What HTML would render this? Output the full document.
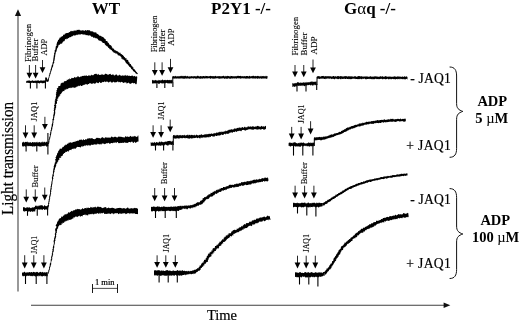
<!DOCTYPE html>
<html><head><meta charset="utf-8"><title>Figure</title>
<style>
html,body{margin:0;padding:0;background:#fff;}
body{width:520px;height:322px;overflow:hidden;}
svg{display:block;filter:grayscale(1);}
svg text{font-family:"Liberation Serif",serif;fill:#000;}
</style></head><body>
<svg width="520" height="322" viewBox="0 0 520 322">
<rect width="520" height="322" fill="#fff"/>
<line x1="18.00" y1="14.00" x2="18.00" y2="291.50" stroke="#444" stroke-width="1.1"/>
<path d="M18 9.3 L14.9 16 L21.1 16 Z" fill="#111" stroke="none" stroke-width="0" />
<line x1="31.00" y1="305.25" x2="445.00" y2="305.25" stroke="#2a2a2a" stroke-width="0.9"/>
<path d="M450.3 305.25 L443.6 302.5 L443.6 308 Z" fill="#111" stroke="none" stroke-width="0" />
<line x1="92.50" y1="288.40" x2="117.50" y2="288.40" stroke="#222" stroke-width="0.8"/>
<line x1="92.50" y1="284.00" x2="92.50" y2="293.00" stroke="#000" stroke-width="0.9"/>
<line x1="117.50" y1="284.00" x2="117.50" y2="293.00" stroke="#000" stroke-width="0.9"/>
<text x="104.80" y="284.50" font-size="8.5" text-anchor="middle" stroke="#000" stroke-width="0.2">1 min</text>
<text x="106.00" y="14.40" font-size="17" font-weight="bold" text-anchor="middle">WT</text>
<text x="211.00" y="14.40" font-size="17" font-weight="bold">P2Y1 -/-</text>
<text x="344" y="14.4" font-size="17" font-weight="bold">G<tspan font-weight="normal">α</tspan>q -/-</text>
<text transform="translate(13.3 214.9) rotate(-90)" font-size="16" textLength="113" lengthAdjust="spacingAndGlyphs" stroke="#000" stroke-width="0.2">Light transmission</text>
<text x="222.00" y="319.60" font-size="14.5" text-anchor="middle" stroke="#000" stroke-width="0.2">Time</text>
<text x="410.20" y="83.30" font-size="13.6" textLength="40.6" lengthAdjust="spacing" stroke="#000" stroke-width="0.2">- JAQ1</text>
<text x="406.30" y="150.20" font-size="13.6" textLength="44.5" lengthAdjust="spacing" stroke="#000" stroke-width="0.2">+ JAQ1</text>
<text x="410.20" y="204.40" font-size="13.6" textLength="40.6" lengthAdjust="spacing" stroke="#000" stroke-width="0.2">- JAQ1</text>
<text x="406.30" y="267.60" font-size="13.6" textLength="44.5" lengthAdjust="spacing" stroke="#000" stroke-width="0.2">+ JAQ1</text>
<text x="492.30" y="105.70" font-size="14.5" font-weight="bold" text-anchor="middle">ADP</text>
<text x="491.80" y="122.80" font-size="14.5" font-weight="bold" text-anchor="middle">5 <tspan font-weight="normal">µ</tspan>M</text>
<text x="495.30" y="225.00" font-size="14.5" font-weight="bold" text-anchor="middle">ADP</text>
<text x="495.60" y="242.20" font-size="14.5" font-weight="bold" text-anchor="middle">100 <tspan font-weight="normal">µ</tspan>M</text>
<path d="M449.6 67.0 C454.6 67.0 456.6 70.0 456.6 76.0 L456.6 103.4 C456.6 108.4 458.6 109.9 462.8 111.4 C458.6 112.9 456.6 114.4 456.6 119.4 L456.6 148.3 C456.6 154.3 454.6 157.3 449.6 157.3" fill="none" stroke="#111" stroke-width="1.0" />
<path d="M449.6 188.6 C454.6 188.6 456.6 191.6 456.6 197.6 L456.6 226.0 C456.6 231.0 458.6 232.5 462.8 234.0 C458.6 235.5 456.6 237.0 456.6 242.0 L456.6 269.5 C456.6 275.5 454.6 278.5 449.6 278.5" fill="none" stroke="#111" stroke-width="1.0" />
<path d="M26.25 82.86 L26.52 83.12 L26.83 83.03 L27.18 82.65 L27.55 82.63 L27.96 82.66 L28.40 82.94 L28.86 82.70 L29.35 83.10 L29.86 83.06 L30.40 83.38 L30.95 83.29 L31.52 82.72 L32.10 82.85 L32.70 82.74 L33.31 83.11 L33.92 83.04 L34.55 82.65 L35.18 83.14 L35.81 82.85 L36.44 82.96 L37.07 83.24 L37.70 82.80 L38.33 83.02 L38.94 83.18 L39.55 83.38 L40.15 82.93 L40.73 82.72 L41.30 82.63 L41.85 83.21 L42.39 83.30 L42.90 83.16 L43.39 83.06 L43.85 83.27 L44.29 82.98 L44.70 82.65 L45.07 83.12 L45.42 83.26 L45.73 82.91 L46.00 82.62 L46.00 80.63 L45.73 80.47 L45.42 80.77 L45.07 80.21 L44.70 80.44 L44.29 80.47 L43.85 80.24 L43.39 80.64 L42.90 80.52 L42.39 80.75 L41.85 80.54 L41.30 80.47 L40.73 80.61 L40.15 80.39 L39.55 80.91 L38.94 80.77 L38.33 80.30 L37.70 80.54 L37.07 80.44 L36.44 80.76 L35.81 80.53 L35.18 80.66 L34.55 80.84 L33.92 80.95 L33.31 80.70 L32.70 80.53 L32.10 80.35 L31.52 80.91 L30.95 80.77 L30.40 80.96 L29.86 80.68 L29.35 80.24 L28.86 80.82 L28.40 80.34 L27.96 80.93 L27.55 80.65 L27.18 80.59 L26.83 80.71 L26.52 80.94 L26.25 80.88Z" fill="#000" stroke="none" stroke-width="0" />
<path d="M46.59 82.02 L46.53 81.64 L46.58 81.11 L46.76 80.47 L46.58 79.78 L46.90 79.13 L47.11 78.57 L46.80 78.14 L46.57 78.41 L45.44 78.37 L46.07 78.69 L46.30 79.50 L46.38 80.19 L46.90 80.89 L47.07 81.79 L48.10 82.09 L48.33 81.46 L48.54 81.10 L48.77 80.66 L48.91 80.13 L48.88 79.51 L48.92 78.88 L49.06 78.27 L49.27 77.69 L49.47 77.14 L49.49 76.58 L49.68 76.08 L49.79 75.60 L50.16 75.22 L50.15 74.74 L50.33 74.29 L50.68 73.85 L50.69 73.24 L50.73 72.55 L51.06 71.84 L51.38 71.53 L51.16 71.03 L51.51 70.67 L51.66 70.23 L51.80 69.77 L52.10 69.34 L52.00 68.77 L52.12 68.25 L52.44 67.79 L52.52 67.25 L52.90 66.79 L53.08 66.26 L53.23 65.73 L53.12 65.12 L53.34 64.62 L53.34 64.06 L53.59 63.58 L54.05 63.16 L54.17 62.67 L54.30 62.19 L54.08 61.56 L54.18 61.01 L54.49 60.51 L54.70 59.98 L54.69 59.43 L54.50 58.86 L54.98 58.39 L54.98 57.86 L54.77 57.31 L54.92 56.81 L55.32 56.35 L55.11 55.81 L55.35 55.34 L55.14 54.80 L55.62 54.39 L55.34 53.84 L55.87 53.46 L55.71 52.88 L55.75 52.33 L56.40 51.94 L56.33 51.34 L56.47 50.79 L56.90 50.34 L56.74 49.70 L56.93 49.19 L57.13 48.69 L57.23 48.17 L57.58 47.76 L57.93 47.38 L57.99 46.92 L58.22 46.56 L58.40 46.21 L58.48 45.88 L58.51 44.99 L58.96 44.68 L59.74 44.90 L59.64 44.48 L60.24 44.36 L60.15 43.74 L60.55 43.70 L61.36 43.91 L61.75 43.30 L62.37 43.27 L62.41 42.68 L62.64 42.24 L62.92 41.83 L63.28 41.48 L63.83 41.30 L64.39 41.16 L64.44 40.49 L65.02 40.45 L64.91 39.47 L65.19 39.21 L65.56 38.98 L66.40 39.47 L66.41 38.60 L67.14 38.89 L67.70 38.89 L67.75 37.97 L68.30 37.94 L69.07 38.35 L69.08 37.26 L69.71 37.44 L69.99 36.91 L70.67 37.31 L71.00 36.97 L71.23 36.16 L71.94 36.65 L72.19 35.83 L72.91 36.49 L73.15 35.54 L73.61 35.30 L74.15 35.43 L74.68 35.46 L75.26 35.80 L75.58 34.89 L76.17 35.26 L76.56 34.58 L77.17 35.20 L77.54 34.39 L78.12 34.98 L78.53 34.26 L79.02 34.18 L79.55 34.59 L80.04 34.66 L80.51 34.29 L81.01 34.57 L81.49 34.05 L81.98 33.96 L82.47 34.27 L82.95 34.84 L83.46 34.57 L83.96 34.43 L84.45 34.36 L84.89 35.00 L85.43 34.41 L85.80 35.37 L86.27 35.32 L86.79 35.03 L87.28 35.01 L87.66 35.47 L88.21 35.20 L88.51 35.74 L89.03 35.52 L89.59 35.27 L90.02 35.45 L90.39 35.83 L90.91 35.82 L91.00 36.88 L91.71 36.42 L92.16 36.64 L92.68 36.70 L93.09 37.04 L93.19 38.04 L94.01 37.47 L94.42 37.71 L95.05 37.58 L95.27 38.30 L95.92 38.24 L96.54 38.27 L97.00 38.61 L97.54 38.81 L97.87 39.33 L98.18 39.86 L98.54 40.25 L98.99 40.43 L99.58 40.29 L99.59 41.08 L100.26 41.05 L101.07 40.42 L100.86 41.55 L101.23 41.59 L102.00 41.30 L102.03 41.89 L102.14 42.45 L102.71 42.59 L103.04 43.02 L103.83 42.99 L104.35 43.28 L104.81 43.64 L104.88 44.43 L105.26 44.87 L105.80 45.13 L105.96 45.76 L106.60 45.85 L106.84 46.31 L107.12 46.68 L107.98 46.37 L107.93 47.39 L108.35 47.81 L108.95 47.99 L109.32 48.33 L109.40 48.90 L109.85 49.13 L110.60 49.06 L110.46 49.87 L110.97 50.06 L111.83 50.07 L111.84 50.95 L112.30 51.33 L112.88 51.58 L113.38 51.89 L113.59 52.56 L114.05 52.96 L115.11 52.56 L115.26 53.55 L115.95 53.51 L116.54 53.56 L117.01 53.82 L117.54 54.06 L117.54 55.05 L118.01 55.19 L118.32 55.49 L119.05 55.15 L119.28 55.68 L120.09 55.67 L120.34 56.59 L120.84 56.58 L120.99 56.99 L121.53 57.03 L121.20 57.99 L121.46 58.38 L121.82 58.70 L122.58 58.65 L122.45 59.48 L123.32 59.38 L123.75 59.70 L124.26 59.97 L124.49 60.50 L124.90 60.88 L125.06 61.47 L125.54 61.77 L125.51 62.53 L126.06 62.75 L126.17 63.35 L126.68 63.56 L127.01 63.95 L127.35 64.36 L128.06 64.48 L127.93 65.29 L128.63 65.44 L129.13 65.77 L128.98 66.60 L129.58 66.85 L130.01 67.23 L130.64 67.44 L130.96 67.89 L131.10 68.46 L131.16 69.09 L131.80 69.24 L132.29 69.48 L132.50 69.91 L132.86 70.20 L132.95 70.69 L133.39 71.33 L134.10 71.66 L134.61 72.11 L135.23 72.38 L135.25 73.18 L135.87 73.30 L136.09 73.74 L136.65 73.75 L136.88 74.02 L136.93 74.38 L138.04 73.25 L137.71 73.15 L137.40 72.95 L137.11 72.66 L136.97 72.14 L136.41 71.98 L136.10 71.50 L135.73 71.02 L135.40 70.43 L134.91 69.96 L134.74 69.14 L134.11 69.16 L133.73 68.90 L133.45 68.54 L133.19 68.13 L133.47 67.27 L132.63 67.27 L132.79 66.46 L131.94 66.43 L131.78 65.86 L131.38 65.45 L131.01 65.02 L131.02 64.28 L130.39 64.06 L129.88 63.73 L129.47 63.34 L129.59 62.52 L129.11 62.21 L128.46 62.06 L128.52 61.32 L128.45 60.65 L128.01 60.30 L127.76 59.78 L126.79 59.90 L126.48 59.43 L126.63 58.53 L126.17 58.19 L125.18 58.36 L125.11 57.68 L124.87 57.17 L124.36 56.93 L123.92 56.64 L123.91 55.96 L123.12 56.08 L123.28 55.26 L123.04 54.87 L122.37 54.98 L122.04 54.73 L121.52 54.00 L120.61 53.94 L120.62 52.82 L120.01 52.71 L119.47 52.66 L118.88 52.79 L118.66 52.21 L118.14 51.84 L117.76 51.24 L116.94 51.58 L116.79 50.74 L116.11 50.93 L115.93 50.27 L115.14 50.54 L114.70 50.27 L114.54 49.64 L114.03 49.40 L113.93 48.69 L113.21 48.61 L112.59 48.39 L112.52 47.83 L112.19 47.55 L111.76 47.36 L111.94 46.58 L111.69 46.16 L111.08 46.00 L111.21 45.07 L110.11 45.23 L109.68 44.66 L109.38 44.36 L108.90 44.18 L108.95 43.41 L108.76 42.84 L107.75 43.08 L107.91 42.08 L107.46 41.70 L107.22 41.10 L106.42 41.09 L105.74 40.96 L105.89 39.98 L105.67 39.42 L105.25 39.11 L104.92 38.76 L104.36 38.71 L104.32 38.18 L103.93 38.09 L103.20 37.08 L102.19 36.83 L101.82 37.25 L101.62 36.84 L101.60 36.02 L101.07 35.97 L100.56 35.81 L99.93 35.81 L99.33 35.71 L99.06 35.00 L98.48 34.81 L98.12 34.24 L97.61 33.93 L97.03 33.75 L96.52 33.48 L96.36 32.55 L95.63 32.78 L95.34 32.10 L94.58 32.45 L94.07 32.23 L93.46 32.26 L93.14 31.59 L92.69 31.20 L91.88 31.78 L91.59 30.95 L90.82 31.47 L90.37 31.07 L89.93 30.60 L89.43 30.23 L88.87 29.94 L88.17 30.40 L87.65 29.93 L86.99 30.33 L86.37 30.67 L85.86 30.19 L85.30 30.06 L84.70 30.68 L84.15 30.67 L83.61 30.47 L83.07 30.34 L82.53 30.33 L81.98 30.45 L81.43 30.49 L80.88 30.40 L80.33 30.55 L79.72 29.61 L79.21 30.35 L78.60 29.76 L78.03 29.82 L77.48 29.95 L76.89 29.85 L76.42 30.54 L75.95 31.06 L75.26 30.37 L74.65 30.20 L74.26 31.06 L73.53 30.39 L73.18 31.41 L72.42 30.78 L72.01 31.50 L71.19 30.83 L70.59 30.97 L70.19 31.69 L69.68 32.08 L69.05 32.16 L68.75 32.84 L68.12 32.75 L67.61 32.97 L67.06 33.12 L66.34 32.96 L66.03 33.60 L65.27 33.39 L64.76 33.67 L64.77 34.82 L63.95 34.52 L63.37 34.64 L63.07 35.18 L62.93 35.91 L62.37 36.03 L62.03 36.76 L60.86 36.50 L60.91 37.59 L59.92 37.55 L59.44 37.97 L59.42 38.75 L58.93 39.04 L58.79 39.56 L58.59 39.92 L58.07 39.93 L57.88 40.78 L57.80 41.48 L57.32 41.76 L56.94 42.08 L57.13 42.61 L56.97 42.96 L56.89 43.54 L56.41 44.08 L56.74 45.20 L56.76 45.60 L56.24 45.83 L55.82 46.13 L55.71 46.58 L55.91 47.17 L55.45 47.55 L55.64 48.18 L55.38 48.67 L55.42 49.27 L55.32 49.84 L54.77 50.26 L54.60 50.82 L54.64 51.43 L54.86 52.08 L54.45 52.55 L54.29 53.08 L54.09 53.56 L54.00 54.07 L54.24 54.64 L54.14 55.14 L53.68 55.59 L53.88 56.14 L53.61 56.63 L53.55 57.14 L53.63 57.68 L53.41 58.17 L53.40 58.70 L53.26 59.21 L53.33 59.76 L53.04 60.24 L53.28 60.83 L53.16 61.36 L52.98 61.88 L52.58 62.27 L52.71 62.81 L52.47 63.27 L52.52 63.83 L52.49 64.37 L52.12 64.83 L51.86 65.32 L51.68 65.84 L51.44 66.34 L51.62 66.96 L51.21 67.41 L51.06 67.92 L51.08 68.48 L50.78 68.92 L50.51 69.36 L50.77 69.95 L50.59 70.38 L50.11 70.70 L50.33 71.21 L50.17 71.57 L50.02 72.34 L49.68 72.94 L49.31 73.45 L49.52 74.06 L49.30 74.49 L49.26 74.96 L48.85 75.33 L48.92 75.86 L48.85 76.40 L48.74 76.94 L48.55 77.50 L48.43 78.11 L48.05 78.66 L47.99 79.28 L47.69 79.79 L47.55 80.30 L47.69 80.81 L47.36 81.05 L47.46 81.00 L47.90 81.17 L47.74 80.64 L47.47 79.86 L47.40 79.17 L47.09 78.39 L46.84 77.68 L45.65 76.91 L45.41 77.94 L45.07 78.43 L45.03 79.05 L45.28 79.74 L45.00 80.43 L45.38 81.08 L45.04 81.61 L45.45 81.98Z" fill="#000" stroke="none" stroke-width="0" />
<line x1="30.40" y1="82.00" x2="30.40" y2="88.50" stroke="#000" stroke-width="1.1"/>
<line x1="36.90" y1="82.00" x2="36.90" y2="88.50" stroke="#000" stroke-width="1.1"/>
<line x1="45.40" y1="82.00" x2="45.40" y2="88.50" stroke="#000" stroke-width="1.1"/>
<line x1="29.40" y1="65.00" x2="29.40" y2="73.70" stroke="#1a1a1a" stroke-width="0.95"/>
<path d="M26.50 72.70 L32.30 72.70 L29.40 78.50 Z" fill="#000" stroke="none" stroke-width="0" />
<line x1="35.60" y1="65.00" x2="35.60" y2="73.70" stroke="#1a1a1a" stroke-width="0.95"/>
<path d="M32.70 72.70 L38.50 72.70 L35.60 78.50 Z" fill="#000" stroke="none" stroke-width="0" />
<line x1="42.50" y1="60.00" x2="42.50" y2="68.30" stroke="#1a1a1a" stroke-width="0.95"/>
<path d="M39.60 67.30 L45.40 67.30 L42.50 73.10 Z" fill="#000" stroke="none" stroke-width="0" />
<text transform="translate(30.50 62.00) rotate(-90)" font-size="8.7" stroke="#000" stroke-width="0.12" >Fibrinogen</text>
<text transform="translate(37.50 61.40) rotate(-90)" font-size="8.8" stroke="#000" stroke-width="0.12" >Buffer</text>
<text transform="translate(47.00 55.40) rotate(-90)" font-size="8.3" stroke="#000" stroke-width="0.12" >ADP</text>
<path d="M22.00 146.72 L22.27 145.55 L22.56 146.75 L22.88 146.32 L23.23 146.05 L23.61 146.66 L24.00 146.86 L24.42 145.65 L24.86 146.23 L25.32 146.82 L25.80 146.41 L26.30 146.14 L26.81 145.56 L27.34 145.83 L27.89 146.40 L28.44 145.68 L29.01 146.39 L29.60 145.66 L30.19 146.23 L30.79 146.04 L31.40 146.34 L32.01 145.92 L32.63 146.84 L33.26 146.74 L33.89 145.83 L34.52 146.84 L35.15 145.93 L35.78 146.20 L36.41 146.09 L37.04 146.43 L37.67 145.82 L38.29 145.97 L38.90 146.46 L39.51 146.62 L40.11 146.21 L40.70 146.86 L41.29 146.65 L41.86 145.81 L42.41 145.91 L42.96 146.19 L43.49 145.81 L44.00 146.43 L44.50 145.70 L44.98 145.80 L45.44 145.70 L45.88 145.58 L46.30 146.76 L46.69 146.53 L47.07 146.80 L47.42 145.76 L47.74 146.54 L48.03 146.43 L48.30 146.02 L48.30 142.44 L48.03 142.37 L47.74 142.86 L47.42 141.59 L47.07 142.44 L46.69 141.50 L46.30 141.66 L45.88 142.35 L45.44 142.83 L44.98 141.54 L44.50 142.35 L44.00 141.57 L43.49 142.32 L42.96 142.64 L42.41 141.57 L41.86 141.84 L41.29 142.58 L40.70 142.46 L40.11 142.61 L39.51 141.87 L38.90 142.62 L38.29 142.31 L37.67 142.85 L37.04 141.60 L36.41 142.54 L35.78 141.96 L35.15 142.87 L34.52 141.91 L33.89 142.55 L33.26 142.23 L32.63 142.00 L32.01 142.26 L31.40 142.89 L30.79 142.59 L30.19 142.08 L29.60 142.80 L29.01 141.92 L28.44 142.55 L27.89 142.47 L27.34 141.61 L26.81 141.80 L26.30 142.13 L25.80 141.83 L25.32 141.89 L24.86 141.95 L24.42 142.68 L24.00 142.55 L23.61 141.70 L23.23 141.60 L22.88 142.90 L22.56 142.24 L22.27 141.91 L22.00 142.87Z" fill="#000" stroke="none" stroke-width="0" />
<path d="M48.62 144.07 L48.76 143.69 L49.22 143.28 L49.35 142.72 L49.18 142.01 L49.58 141.37 L49.34 140.55 L49.68 139.81 L49.77 139.00 L50.31 138.27 L50.24 137.41 L50.60 136.65 L50.39 135.79 L51.01 135.15 L51.07 134.46 L51.00 133.74 L51.48 133.13 L51.26 132.36 L51.43 131.68 L51.41 130.95 L52.06 130.35 L52.23 129.66 L51.98 128.88 L52.53 128.26 L52.36 127.49 L52.52 126.79 L52.95 126.15 L53.01 125.44 L53.17 124.75 L53.18 124.05 L53.14 123.34 L53.55 122.72 L53.32 121.99 L53.48 121.33 L53.47 120.63 L53.78 119.98 L54.27 119.35 L53.99 118.58 L54.00 117.84 L54.53 117.16 L54.34 116.35 L54.73 115.61 L54.92 114.98 L54.97 114.30 L55.21 113.61 L55.12 112.86 L55.35 112.14 L55.08 111.34 L55.11 110.57 L55.55 109.84 L55.50 109.06 L55.70 108.32 L56.06 107.60 L56.32 106.90 L55.97 106.14 L56.40 105.51 L55.78 104.77 L55.94 104.17 L56.83 103.73 L56.89 103.22 L57.11 102.23 L56.72 101.29 L57.73 100.81 L57.56 100.14 L57.31 99.48 L57.42 98.93 L57.81 98.43 L58.67 98.00 L58.08 97.00 L59.48 96.62 L59.28 95.82 L60.39 95.47 L59.67 94.53 L60.57 94.22 L61.38 93.89 L61.11 93.01 L61.88 92.66 L62.18 92.03 L62.65 91.53 L63.17 91.10 L64.25 91.22 L64.12 90.33 L64.99 90.46 L64.66 89.36 L65.50 89.69 L65.99 89.45 L66.58 89.32 L66.85 88.47 L67.91 89.16 L68.19 88.15 L69.03 88.36 L69.56 87.83 L70.47 88.18 L70.88 87.34 L71.90 88.18 L72.07 87.12 L72.99 88.11 L73.24 87.30 L74.00 87.86 L74.61 87.70 L75.32 87.44 L76.22 87.21 L76.56 86.49 L77.24 87.01 L77.61 85.91 L78.31 86.23 L78.82 85.46 L79.67 86.25 L80.14 85.02 L81.05 85.99 L81.79 85.96 L82.44 85.43 L83.17 85.33 L83.85 84.85 L84.58 84.71 L85.32 84.60 L85.93 83.79 L86.76 84.39 L87.53 84.69 L88.14 84.09 L88.86 83.98 L89.50 83.30 L90.20 83.12 L90.99 83.66 L91.71 83.74 L92.42 83.77 L93.06 83.31 L93.75 83.19 L94.52 83.79 L95.19 83.54 L95.86 83.24 L96.48 82.29 L97.24 82.68 L98.01 83.27 L98.73 82.99 L99.40 81.77 L100.23 82.80 L100.86 82.98 L101.51 82.80 L102.17 82.25 L102.85 81.74 L103.58 82.18 L104.29 81.39 L105.03 81.56 L105.77 82.36 L106.52 81.52 L107.27 81.41 L108.01 82.22 L108.75 82.58 L109.49 82.10 L110.23 81.32 L110.94 82.15 L111.64 82.41 L112.32 82.71 L113.01 81.69 L113.66 81.82 L114.27 82.29 L114.86 82.41 L115.71 82.17 L116.48 82.13 L117.23 81.75 L117.96 81.37 L118.55 82.36 L119.21 82.27 L119.90 81.74 L120.45 82.64 L121.20 81.69 L121.84 81.93 L122.50 82.20 L123.15 82.87 L123.89 83.00 L124.74 82.30 L125.40 82.54 L126.14 82.36 L126.80 83.67 L127.65 82.99 L128.51 82.43 L129.25 83.38 L130.07 83.59 L130.85 84.12 L131.75 83.10 L132.56 82.84 L133.27 83.48 L134.04 82.99 L134.71 82.98 L135.20 84.51 L135.85 83.38 L136.29 83.91 L136.65 84.44 L137.27 76.98 L136.93 76.21 L136.45 76.22 L135.84 76.92 L135.28 76.22 L134.64 75.81 L133.85 76.61 L133.13 76.08 L132.39 75.43 L131.56 75.63 L130.70 76.03 L129.86 76.11 L129.08 75.58 L128.22 76.12 L127.50 75.23 L126.72 75.40 L125.93 76.12 L125.37 74.82 L124.56 75.50 L123.81 75.88 L123.19 75.23 L122.49 75.54 L121.83 75.49 L121.12 75.97 L120.49 75.59 L119.91 74.47 L119.14 75.17 L118.38 75.58 L117.61 75.77 L116.87 74.69 L116.04 74.15 L115.11 75.30 L114.47 75.58 L113.84 75.33 L113.20 74.35 L112.50 74.61 L111.79 75.07 L111.07 74.83 L110.35 73.83 L109.59 73.98 L108.83 74.47 L108.06 74.75 L107.29 74.45 L106.51 74.02 L105.74 73.82 L104.96 73.74 L104.21 74.93 L103.44 74.70 L102.69 74.78 L101.92 73.72 L101.23 74.96 L100.51 74.76 L99.82 74.95 L98.97 74.67 L98.09 73.77 L97.37 75.03 L96.47 73.81 L95.68 73.82 L94.93 74.13 L94.13 73.90 L93.53 75.33 L92.75 75.01 L92.07 75.60 L91.19 74.52 L90.61 75.70 L89.89 75.84 L89.07 75.29 L88.34 75.39 L87.68 75.98 L86.93 75.96 L86.06 75.09 L85.45 76.04 L84.60 75.54 L83.89 75.92 L83.06 75.68 L82.31 75.91 L81.61 76.46 L80.78 76.19 L80.14 76.98 L79.41 77.23 L78.51 76.52 L77.68 76.11 L77.18 77.25 L76.44 77.15 L75.77 77.24 L75.21 77.70 L74.36 76.77 L73.99 77.86 L73.00 78.26 L71.89 77.85 L71.16 78.51 L70.57 79.32 L69.36 78.24 L69.18 79.82 L68.03 78.90 L67.70 79.93 L66.78 79.63 L66.58 80.92 L65.80 80.95 L65.06 81.16 L64.17 81.15 L63.70 82.10 L63.28 83.10 L62.01 82.58 L61.34 83.20 L60.55 83.67 L60.55 85.19 L59.86 85.95 L58.27 85.90 L58.40 87.34 L57.71 88.02 L56.75 88.50 L57.27 89.87 L56.37 90.30 L56.90 91.52 L55.99 92.09 L56.46 93.27 L55.67 93.89 L56.13 94.87 L56.11 95.67 L55.87 96.38 L56.02 97.21 L55.31 97.64 L55.75 98.40 L55.41 98.90 L54.99 99.41 L55.49 100.24 L54.63 100.83 L54.88 101.80 L54.83 102.87 L54.56 103.38 L54.85 104.01 L54.68 104.62 L54.05 105.20 L54.07 105.90 L54.62 106.69 L54.07 107.37 L54.35 108.16 L53.64 108.84 L54.11 109.67 L53.59 110.39 L54.02 111.21 L53.97 111.97 L53.76 112.69 L53.74 113.42 L53.78 114.14 L53.19 114.74 L53.24 115.39 L53.30 116.20 L53.17 116.95 L53.03 117.68 L53.19 118.44 L52.49 119.05 L52.39 119.74 L52.55 120.46 L52.74 121.19 L52.20 121.78 L52.50 122.53 L52.21 123.17 L52.11 123.84 L51.72 124.48 L51.62 125.17 L51.81 125.93 L51.50 126.59 L51.50 127.32 L50.97 127.94 L51.10 128.70 L51.21 129.45 L50.73 130.08 L50.52 130.76 L50.64 131.51 L50.26 132.15 L50.17 132.85 L50.21 133.57 L49.74 134.18 L49.94 134.92 L49.88 135.68 L49.72 136.46 L49.15 137.17 L49.38 138.06 L49.02 138.83 L48.56 139.56 L48.62 140.38 L48.47 141.12 L48.11 141.77 L48.29 142.48 L48.21 143.05 L47.98 143.51 L48.07 143.95Z" fill="#000" stroke="none" stroke-width="0" />
<line x1="26.10" y1="144.00" x2="26.10" y2="151.50" stroke="#000" stroke-width="1.1"/>
<line x1="36.80" y1="144.00" x2="36.80" y2="151.50" stroke="#000" stroke-width="1.1"/>
<line x1="47.90" y1="133.00" x2="47.90" y2="154.50" stroke="#000" stroke-width="1.1"/>
<line x1="25.50" y1="125.30" x2="25.50" y2="133.60" stroke="#1a1a1a" stroke-width="0.95"/>
<path d="M22.60 132.60 L28.40 132.60 L25.50 138.40 Z" fill="#000" stroke="none" stroke-width="0" />
<line x1="34.20" y1="125.30" x2="34.20" y2="133.60" stroke="#1a1a1a" stroke-width="0.95"/>
<path d="M31.30 132.60 L37.10 132.60 L34.20 138.40 Z" fill="#000" stroke="none" stroke-width="0" />
<line x1="44.90" y1="116.80" x2="44.90" y2="124.90" stroke="#1a1a1a" stroke-width="0.95"/>
<path d="M42.00 123.90 L47.80 123.90 L44.90 129.70 Z" fill="#000" stroke="none" stroke-width="0" />
<text transform="translate(36.80 121.20) rotate(-90)" font-size="8.4" stroke="#000" stroke-width="0.12" >JAQ1</text>
<path d="M23.00 211.03 L23.29 210.67 L23.63 211.70 L24.03 210.61 L24.48 211.64 L24.97 211.64 L25.50 210.92 L26.06 210.93 L26.64 211.07 L27.25 211.57 L27.88 211.60 L28.51 211.38 L29.15 211.70 L29.79 210.97 L30.42 211.95 L31.05 211.83 L31.66 210.96 L32.24 211.64 L32.80 211.64 L33.33 211.83 L33.82 210.93 L34.27 211.48 L34.67 211.53 L35.01 211.26 L35.30 211.58 L35.30 207.00 L35.01 207.02 L34.67 206.83 L34.27 207.23 L33.82 206.93 L33.33 207.74 L32.80 207.74 L32.24 206.88 L31.66 207.87 L31.05 208.18 L30.42 207.90 L29.79 207.30 L29.15 207.47 L28.51 207.59 L27.88 207.83 L27.25 207.02 L26.64 207.15 L26.06 208.15 L25.50 208.05 L24.97 207.57 L24.48 207.55 L24.03 207.02 L23.63 207.20 L23.29 206.95 L23.00 207.78Z" fill="#000" stroke="none" stroke-width="0" />
<path d="M35.00 209.51 L35.29 209.70 L35.64 209.20 L36.04 209.01 L36.49 209.10 L36.99 209.05 L37.52 209.38 L38.08 208.94 L38.67 209.87 L39.29 209.88 L39.92 208.99 L40.56 209.41 L41.20 210.05 L41.84 208.99 L42.48 210.18 L43.11 209.05 L43.73 209.06 L44.32 210.09 L44.88 209.79 L45.41 209.78 L45.91 209.04 L46.36 209.96 L46.76 209.35 L47.11 208.93 L47.40 209.30 L47.40 205.50 L47.11 206.14 L46.76 205.91 L46.36 206.21 L45.91 206.36 L45.41 206.10 L44.88 205.34 L44.32 205.36 L43.73 206.45 L43.11 206.21 L42.48 205.18 L41.84 205.29 L41.20 205.25 L40.56 205.36 L39.92 205.67 L39.29 205.47 L38.67 205.61 L38.08 206.44 L37.52 206.30 L36.99 205.20 L36.49 206.46 L36.04 205.22 L35.64 205.63 L35.29 206.07 L35.00 205.49Z" fill="#000" stroke="none" stroke-width="0" />
<path d="M47.92 209.59 L48.31 209.28 L48.34 208.86 L48.01 208.30 L48.34 207.84 L48.42 207.26 L48.65 206.65 L48.96 206.01 L49.10 205.26 L48.83 204.36 L49.39 203.56 L49.17 202.54 L49.61 201.57 L49.63 200.45 L49.80 199.94 L49.84 199.38 L49.95 198.79 L50.27 198.21 L50.05 197.52 L50.14 196.85 L50.57 196.21 L50.64 195.50 L50.63 194.75 L51.01 194.05 L51.12 193.30 L50.85 192.48 L51.35 191.77 L51.18 190.95 L51.21 190.16 L51.49 189.40 L51.73 188.64 L51.61 187.84 L51.62 187.05 L52.02 186.34 L51.85 185.55 L52.30 184.87 L52.04 184.09 L52.58 183.46 L52.28 182.72 L52.68 182.11 L52.46 181.43 L52.61 180.84 L52.86 180.29 L52.90 179.34 L53.43 178.49 L53.05 177.54 L53.19 176.70 L53.88 175.98 L53.86 175.18 L53.64 174.37 L53.71 173.64 L54.02 172.97 L54.15 172.29 L54.47 171.68 L54.55 171.04 L54.34 170.36 L54.64 169.81 L55.12 169.31 L55.01 168.70 L55.02 168.14 L55.52 167.27 L55.83 166.48 L56.16 165.80 L56.23 165.12 L56.19 164.43 L56.23 163.79 L57.16 163.49 L57.28 162.86 L57.35 162.15 L57.99 161.56 L58.47 160.94 L58.15 160.03 L59.43 159.77 L59.40 159.02 L59.16 158.15 L59.77 157.69 L61.32 157.76 L60.60 156.52 L61.65 156.32 L62.07 155.76 L62.94 155.55 L62.87 154.68 L63.12 154.02 L63.86 153.79 L64.12 153.06 L64.82 153.01 L65.24 152.56 L65.55 151.86 L66.51 152.03 L67.06 151.59 L67.59 151.07 L68.81 151.72 L68.87 150.40 L69.64 150.34 L70.07 149.68 L71.21 150.29 L71.53 149.50 L71.87 148.88 L72.45 148.83 L73.22 149.30 L73.56 148.56 L74.22 148.46 L75.09 148.66 L75.99 148.43 L76.29 147.57 L76.85 147.51 L77.28 146.70 L77.99 147.00 L78.64 146.88 L79.35 146.93 L80.10 147.15 L80.89 147.43 L81.34 145.91 L82.31 147.11 L82.82 145.76 L83.70 146.40 L84.27 145.29 L85.17 146.18 L85.75 145.18 L86.50 145.27 L87.24 145.33 L88.05 146.11 L88.59 144.83 L89.38 145.42 L90.08 145.42 L90.79 145.51 L91.38 144.48 L92.12 144.93 L92.80 144.70 L93.52 144.81 L94.18 144.22 L94.93 144.56 L95.64 144.44 L96.38 144.41 L97.13 144.41 L97.82 143.49 L98.65 144.15 L99.46 144.38 L100.23 143.84 L100.96 144.71 L101.57 144.13 L102.12 143.10 L102.85 144.08 L103.44 143.46 L104.10 143.68 L104.80 144.24 L105.42 143.89 L106.02 143.22 L106.69 143.21 L107.38 143.40 L108.03 142.84 L108.75 143.12 L109.51 143.71 L110.25 143.65 L110.97 143.07 L111.75 143.02 L112.57 143.20 L113.37 142.63 L114.23 142.53 L115.15 143.01 L115.70 142.04 L116.39 143.37 L116.99 142.01 L117.69 141.92 L118.46 143.36 L119.19 142.91 L119.97 143.29 L120.74 142.80 L121.54 142.91 L122.36 142.86 L123.18 142.81 L124.02 142.94 L124.83 141.99 L125.70 142.92 L126.53 142.71 L127.38 142.96 L128.20 142.52 L129.01 142.08 L129.82 142.09 L130.64 142.59 L131.39 141.63 L132.16 141.59 L132.94 142.81 L133.66 142.97 L134.31 141.50 L135.00 142.42 L135.66 143.02 L136.22 142.10 L136.80 142.46 L137.29 141.67 L137.76 141.42 L138.20 141.60 L138.58 141.54 L138.38 135.61 L138.00 135.47 L137.58 135.95 L137.15 137.04 L136.62 136.74 L136.07 136.94 L135.45 136.37 L134.80 135.66 L134.17 136.56 L133.47 136.49 L132.74 136.32 L132.02 137.07 L131.24 136.39 L130.43 135.83 L129.66 136.66 L128.84 136.71 L128.02 137.00 L127.16 136.19 L126.35 136.89 L125.47 136.05 L124.68 137.49 L123.83 137.42 L122.98 136.88 L122.16 137.31 L121.32 136.73 L120.52 136.72 L119.73 136.78 L118.95 136.53 L118.21 136.85 L117.51 137.56 L116.80 137.42 L116.11 137.06 L115.45 136.81 L114.84 136.75 L113.95 137.10 L113.09 137.57 L112.20 136.86 L111.36 136.61 L110.63 137.77 L109.84 137.61 L109.10 137.83 L108.34 137.46 L107.64 137.69 L106.90 137.20 L106.25 137.72 L105.53 137.15 L104.89 137.58 L104.32 138.57 L103.61 137.90 L102.90 137.15 L102.27 137.28 L101.67 137.84 L101.03 137.85 L100.46 138.79 L99.77 138.29 L98.91 137.67 L98.17 138.16 L97.37 137.76 L96.60 137.77 L95.90 138.40 L95.21 139.01 L94.48 139.19 L93.74 139.11 L93.00 138.96 L92.18 138.02 L91.47 138.30 L90.74 138.44 L89.98 138.27 L89.23 138.26 L88.50 138.51 L87.72 138.42 L86.98 138.67 L86.40 139.78 L85.52 138.90 L84.92 140.02 L84.14 139.97 L83.19 138.98 L82.68 140.59 L81.68 139.43 L80.93 139.64 L80.15 139.71 L79.39 139.81 L78.81 140.72 L77.99 140.43 L77.34 140.83 L76.74 141.34 L75.91 140.73 L75.47 141.71 L74.84 141.75 L74.25 141.87 L73.18 142.00 L72.37 142.62 L71.44 142.64 L70.36 142.14 L69.74 142.70 L68.82 142.54 L68.44 143.44 L67.74 143.66 L66.95 143.81 L66.73 145.00 L65.59 144.59 L65.12 145.42 L64.24 145.59 L63.95 146.71 L62.88 146.63 L62.45 147.52 L61.82 148.08 L61.54 149.05 L59.94 148.52 L59.52 149.56 L59.01 150.43 L58.15 150.96 L58.22 152.16 L57.65 152.83 L57.17 153.52 L57.02 154.38 L56.77 155.17 L56.12 155.77 L56.22 156.75 L55.39 157.26 L56.08 158.41 L55.53 159.02 L55.03 159.66 L55.61 160.69 L55.42 161.43 L55.44 162.15 L54.78 162.57 L54.88 163.28 L54.51 163.82 L54.49 164.53 L54.11 165.17 L53.92 165.95 L53.61 166.79 L53.92 167.89 L53.42 168.37 L53.54 168.99 L53.22 169.53 L53.21 170.15 L53.20 170.79 L53.07 171.43 L52.76 172.05 L53.16 172.82 L52.93 173.51 L52.54 174.19 L52.56 174.97 L52.22 175.72 L52.35 176.57 L51.88 177.36 L51.89 178.25 L52.08 179.21 L51.95 180.15 L51.77 180.71 L51.78 181.33 L51.29 181.90 L51.50 182.60 L51.44 183.29 L51.21 183.97 L51.03 184.68 L51.01 185.43 L50.73 186.15 L50.57 186.90 L50.75 187.71 L50.46 188.46 L50.29 189.23 L50.34 190.03 L49.99 190.78 L50.10 191.58 L50.12 192.37 L50.14 193.15 L49.99 193.90 L49.72 194.62 L49.64 195.35 L49.30 196.02 L49.20 196.71 L49.18 197.39 L49.16 198.04 L49.22 198.68 L48.74 199.21 L48.71 199.77 L48.81 200.32 L48.47 201.38 L48.45 202.41 L48.02 203.31 L48.26 204.25 L48.12 205.06 L48.01 205.81 L47.80 206.47 L47.41 207.04 L47.25 207.60 L47.33 208.15 L47.12 208.59 L47.08 209.03 L47.10 209.42Z" fill="#000" stroke="none" stroke-width="0" />
<line x1="27.50" y1="209.00" x2="27.50" y2="215.80" stroke="#000" stroke-width="1.1"/>
<line x1="37.25" y1="209.00" x2="37.25" y2="215.80" stroke="#000" stroke-width="1.1"/>
<line x1="47.60" y1="205.50" x2="47.60" y2="215.50" stroke="#000" stroke-width="1.1"/>
<line x1="26.25" y1="189.40" x2="26.25" y2="197.70" stroke="#1a1a1a" stroke-width="0.95"/>
<path d="M23.35 196.70 L29.15 196.70 L26.25 202.50 Z" fill="#000" stroke="none" stroke-width="0" />
<line x1="35.25" y1="189.40" x2="35.25" y2="197.70" stroke="#1a1a1a" stroke-width="0.95"/>
<path d="M32.35 196.70 L38.15 196.70 L35.25 202.50 Z" fill="#000" stroke="none" stroke-width="0" />
<line x1="44.75" y1="187.50" x2="44.75" y2="195.80" stroke="#1a1a1a" stroke-width="0.95"/>
<path d="M41.85 194.80 L47.65 194.80 L44.75 200.60 Z" fill="#000" stroke="none" stroke-width="0" />
<text transform="translate(37.80 187.50) rotate(-90)" font-size="8.5" stroke="#000" stroke-width="0.12" >Buffer</text>
<path d="M22.00 275.48 L22.27 276.31 L22.56 276.33 L22.88 275.37 L23.23 276.30 L23.61 276.32 L24.00 276.18 L24.42 275.94 L24.87 275.66 L25.33 276.30 L25.81 275.32 L26.31 276.44 L26.82 275.74 L27.35 275.53 L27.90 275.98 L28.46 275.81 L29.03 275.91 L29.61 275.50 L30.21 275.81 L30.81 276.18 L31.42 275.84 L32.03 276.62 L32.65 276.09 L33.28 275.38 L33.91 276.28 L34.54 275.76 L35.16 276.67 L35.79 276.14 L36.42 275.90 L37.05 275.83 L37.67 276.14 L38.28 276.43 L38.89 275.30 L39.49 275.89 L40.09 276.44 L40.67 275.36 L41.24 276.44 L41.80 276.10 L42.35 276.49 L42.88 276.26 L43.39 275.79 L43.89 276.08 L44.37 275.58 L44.83 276.60 L45.28 276.15 L45.70 275.95 L46.09 275.66 L46.47 276.41 L46.82 275.42 L47.14 276.38 L47.43 276.11 L47.70 276.54 L47.70 272.37 L47.43 271.84 L47.14 272.77 L46.82 271.97 L46.47 272.46 L46.09 272.05 L45.70 272.81 L45.28 272.15 L44.83 272.77 L44.37 272.05 L43.89 271.98 L43.39 272.98 L42.88 271.82 L42.35 271.97 L41.80 272.72 L41.24 271.89 L40.67 271.93 L40.09 271.86 L39.49 272.28 L38.89 272.73 L38.28 272.70 L37.67 271.85 L37.05 272.14 L36.42 271.86 L35.79 272.67 L35.16 271.94 L34.54 272.25 L33.91 271.94 L33.28 271.74 L32.65 272.69 L32.03 272.00 L31.42 272.00 L30.81 272.51 L30.21 272.20 L29.61 271.98 L29.03 272.15 L28.46 272.30 L27.90 273.02 L27.35 271.89 L26.82 272.08 L26.31 272.99 L25.81 272.19 L25.33 273.08 L24.87 271.75 L24.42 271.79 L24.00 272.11 L23.61 272.98 L23.23 271.90 L22.88 272.02 L22.56 272.84 L22.27 272.76 L22.00 273.08Z" fill="#000" stroke="none" stroke-width="0" />
<path d="M48.47 274.12 L48.42 273.71 L48.52 273.29 L48.73 272.84 L48.89 272.32 L48.90 271.72 L49.49 271.23 L49.20 270.47 L49.72 269.88 L49.81 269.15 L49.95 268.41 L49.89 267.59 L50.51 266.93 L50.55 266.10 L50.85 265.32 L51.13 264.53 L51.25 263.70 L51.14 262.81 L51.30 261.99 L51.41 261.16 L51.82 260.40 L51.90 259.77 L52.27 259.16 L52.23 258.46 L52.10 257.72 L52.31 257.02 L52.65 256.34 L52.80 255.61 L52.81 254.84 L53.24 254.14 L52.95 253.31 L53.10 252.55 L53.60 251.85 L53.69 251.08 L53.79 250.31 L53.84 249.54 L53.62 248.74 L54.16 248.07 L54.23 247.34 L54.30 246.62 L54.12 245.87 L54.33 245.21 L54.57 244.57 L54.53 243.92 L54.91 243.35 L55.03 242.77 L54.70 242.15 L54.98 241.20 L55.56 240.37 L55.23 239.45 L55.33 238.66 L55.96 237.99 L55.81 237.25 L56.19 236.63 L56.16 235.97 L55.97 235.31 L56.44 234.78 L56.12 234.12 L56.32 233.56 L56.35 232.97 L57.00 232.49 L56.69 231.49 L57.05 230.65 L57.09 229.77 L57.25 228.95 L58.13 228.35 L58.16 227.60 L58.12 226.88 L58.46 226.33 L59.51 226.06 L58.89 224.75 L60.44 225.24 L60.89 224.85 L61.54 224.84 L61.77 224.33 L61.49 223.21 L62.77 223.65 L62.65 222.50 L63.96 223.05 L64.28 222.26 L64.39 221.48 L65.37 221.91 L65.43 220.75 L66.46 221.18 L66.83 220.41 L67.73 220.59 L68.52 220.58 L68.73 219.42 L69.75 219.91 L70.38 219.63 L71.12 219.44 L71.77 219.19 L72.08 218.43 L72.87 218.81 L73.34 218.55 L73.49 217.33 L74.22 217.39 L74.97 217.17 L75.72 216.36 L76.39 216.92 L76.81 216.28 L77.66 217.23 L78.09 216.32 L78.76 216.27 L79.31 215.62 L80.30 216.88 L80.86 216.04 L81.58 215.94 L82.43 216.48 L82.92 215.11 L83.68 215.08 L84.35 214.61 L85.26 215.54 L85.80 214.35 L86.65 215.13 L87.37 215.23 L88.08 215.40 L88.60 213.96 L89.39 214.54 L90.04 214.07 L90.75 214.15 L91.47 214.33 L92.08 213.51 L92.85 214.36 L93.55 214.39 L94.18 213.60 L94.92 214.23 L95.58 213.43 L96.32 213.96 L97.00 213.03 L97.75 213.27 L98.51 213.80 L99.27 213.76 L100.03 212.49 L100.65 213.92 L101.27 212.79 L101.88 213.41 L102.49 213.26 L103.12 213.12 L103.77 212.48 L104.33 214.02 L104.98 214.00 L105.64 213.83 L106.30 213.98 L107.00 213.63 L107.69 213.73 L108.42 213.55 L109.15 213.71 L109.91 213.58 L110.65 214.31 L111.50 213.31 L112.34 213.04 L113.14 214.40 L114.05 213.32 L114.95 213.75 L115.58 213.10 L116.23 213.37 L116.92 213.37 L117.63 213.04 L118.37 214.25 L119.13 213.81 L119.92 213.22 L120.72 213.63 L121.54 213.87 L122.37 213.38 L123.21 213.23 L124.05 213.48 L124.90 212.88 L125.75 214.23 L126.60 213.74 L127.44 213.29 L128.28 213.30 L129.11 213.07 L129.92 214.20 L130.72 212.90 L131.50 213.50 L132.25 212.96 L132.99 214.31 L133.69 213.01 L134.36 213.32 L135.01 213.73 L135.62 214.05 L136.18 213.91 L136.71 213.94 L137.19 213.97 L137.62 214.17 L138.00 214.09 L138.00 209.09 L137.61 208.89 L137.17 207.95 L136.69 208.32 L136.16 207.89 L135.59 208.25 L134.98 207.71 L134.34 207.99 L133.67 208.52 L132.96 207.88 L132.23 208.70 L131.47 207.88 L130.70 208.43 L129.90 208.34 L129.09 208.94 L128.26 207.81 L127.43 207.46 L126.59 208.25 L125.74 208.65 L124.89 208.46 L124.05 208.08 L123.21 208.19 L122.37 208.62 L121.54 208.25 L120.73 208.12 L119.94 207.85 L119.16 207.93 L118.40 207.99 L117.67 208.08 L116.96 208.55 L116.29 208.28 L115.64 208.71 L115.04 208.66 L114.17 208.13 L113.33 208.03 L112.52 207.87 L111.74 207.75 L110.94 208.28 L110.20 208.01 L109.45 208.26 L108.79 207.13 L108.03 208.13 L107.34 208.09 L106.63 208.42 L106.04 207.01 L105.34 207.37 L104.69 207.10 L103.97 208.08 L103.34 207.47 L102.65 208.14 L102.00 207.64 L101.33 207.53 L100.65 206.71 L99.97 207.37 L99.13 206.82 L98.32 206.69 L97.51 206.56 L96.77 207.59 L96.00 207.57 L95.18 206.61 L94.46 207.28 L93.72 207.46 L92.91 206.65 L92.27 207.91 L91.47 207.28 L90.69 206.86 L90.07 208.05 L89.33 208.12 L88.52 207.57 L87.84 208.22 L86.96 207.34 L86.37 208.42 L85.52 207.88 L84.74 207.88 L84.08 208.66 L83.34 208.95 L82.36 207.96 L81.80 209.24 L81.00 209.20 L80.31 209.68 L79.39 209.04 L78.67 209.25 L77.81 208.83 L77.15 209.18 L76.48 209.41 L75.76 209.33 L75.19 209.72 L74.66 210.19 L74.07 210.34 L72.99 210.53 L72.26 211.50 L71.06 210.80 L70.61 211.96 L69.78 211.97 L69.46 212.95 L68.26 212.03 L68.03 213.10 L67.58 213.83 L66.70 213.67 L66.28 214.53 L65.24 214.18 L64.46 214.41 L64.16 215.52 L63.27 215.53 L62.95 216.52 L62.24 216.78 L61.14 216.43 L61.12 217.71 L60.33 218.23 L59.43 218.60 L58.72 219.14 L58.75 220.38 L57.89 220.60 L57.86 221.52 L57.15 221.79 L57.07 223.10 L56.67 223.97 L55.79 224.97 L55.62 225.54 L56.50 226.45 L56.26 227.12 L56.21 227.88 L55.36 228.51 L55.17 229.34 L55.14 230.24 L55.39 231.23 L55.39 232.18 L55.34 232.79 L55.13 233.35 L54.70 233.88 L54.85 234.52 L55.13 235.18 L54.97 235.78 L54.64 236.39 L54.65 237.07 L54.35 237.74 L54.04 238.46 L54.25 239.30 L53.84 240.09 L53.68 240.99 L53.54 241.96 L53.91 242.59 L53.93 243.19 L53.75 243.79 L53.63 244.42 L53.56 245.08 L53.33 245.74 L52.96 246.40 L53.12 247.16 L52.63 247.82 L52.98 248.64 L52.37 249.30 L52.41 250.09 L52.68 250.91 L52.06 251.59 L52.25 252.41 L52.31 253.20 L51.64 253.87 L51.98 254.70 L51.73 255.42 L51.29 256.10 L51.38 256.86 L51.05 257.53 L51.23 258.27 L51.28 258.97 L50.69 259.53 L50.62 260.16 L50.88 261.05 L50.64 261.84 L50.54 262.67 L49.87 263.38 L49.79 264.22 L49.77 265.07 L49.67 265.89 L49.36 266.64 L48.91 267.35 L49.22 268.23 L48.87 268.92 L48.79 269.64 L48.37 270.26 L48.33 270.93 L48.35 271.58 L47.96 272.08 L47.80 272.60 L47.61 273.06 L47.76 273.55 L47.47 273.87Z" fill="#000" stroke="none" stroke-width="0" />
<line x1="25.50" y1="274.00" x2="25.50" y2="284.00" stroke="#000" stroke-width="1.1"/>
<line x1="36.20" y1="274.00" x2="36.20" y2="284.00" stroke="#000" stroke-width="1.1"/>
<line x1="46.90" y1="274.00" x2="46.90" y2="284.00" stroke="#000" stroke-width="1.1"/>
<line x1="24.70" y1="255.20" x2="24.70" y2="263.60" stroke="#1a1a1a" stroke-width="0.95"/>
<path d="M21.80 262.60 L27.60 262.60 L24.70 268.40 Z" fill="#000" stroke="none" stroke-width="0" />
<line x1="33.80" y1="255.20" x2="33.80" y2="263.60" stroke="#1a1a1a" stroke-width="0.95"/>
<path d="M30.90 262.60 L36.70 262.60 L33.80 268.40 Z" fill="#000" stroke="none" stroke-width="0" />
<line x1="43.90" y1="255.20" x2="43.90" y2="263.60" stroke="#1a1a1a" stroke-width="0.95"/>
<path d="M41.00 262.60 L46.80 262.60 L43.90 268.40 Z" fill="#000" stroke="none" stroke-width="0" />
<text transform="translate(36.60 253.80) rotate(-90)" font-size="7.7" stroke="#000" stroke-width="0.12" >JAQ1</text>
<path d="M152.02 83.62 L152.29 83.29 L152.59 83.38 L152.93 83.63 L153.30 83.42 L153.70 83.23 L154.13 83.55 L154.58 83.14 L155.06 83.13 L155.57 83.61 L156.09 83.26 L156.62 82.88 L157.18 82.82 L157.76 83.34 L158.35 83.74 L158.95 83.65 L159.56 83.78 L160.17 83.13 L160.79 82.63 L161.42 83.29 L162.05 83.71 L162.68 83.24 L163.31 83.21 L163.94 83.41 L164.56 83.01 L165.18 82.99 L165.79 83.38 L166.38 82.68 L166.97 83.04 L167.55 83.24 L168.11 83.70 L168.64 83.07 L169.17 83.73 L169.67 83.17 L170.14 82.73 L170.61 83.69 L171.03 83.13 L171.43 83.59 L171.80 83.49 L172.14 83.57 L172.44 82.69 L172.71 83.11 L172.69 80.09 L172.42 80.35 L172.11 80.20 L171.76 79.52 L171.40 79.88 L171.00 80.58 L170.57 79.73 L170.12 80.34 L169.63 79.75 L169.14 80.32 L168.61 79.99 L168.07 80.16 L167.51 79.69 L166.94 80.08 L166.36 80.31 L165.76 80.14 L165.14 79.64 L164.53 80.07 L163.91 80.32 L163.28 80.17 L162.65 79.60 L162.02 79.87 L161.39 80.21 L160.77 80.76 L160.13 79.73 L159.53 80.58 L158.91 79.83 L158.32 80.45 L157.73 80.74 L157.15 80.16 L156.60 80.49 L156.06 80.33 L155.53 79.85 L155.04 80.48 L154.55 80.21 L154.10 80.53 L153.67 80.33 L153.27 80.43 L152.90 79.84 L152.56 80.39 L152.25 79.74 L151.98 80.20Z" fill="#000" stroke="none" stroke-width="0" />
<line x1="172.80" y1="82.00" x2="172.80" y2="76.80" stroke="#000" stroke-width="1"/>
<path d="M172.50 78.35 L172.76 78.70 L173.02 78.48 L173.30 78.71 L173.58 78.53 L173.88 78.44 L174.19 78.20 L174.50 78.87 L174.83 78.73 L175.16 78.59 L175.50 78.41 L175.85 78.62 L176.21 78.65 L176.58 78.29 L176.96 78.80 L177.34 78.27 L177.74 78.61 L178.14 78.68 L178.55 78.24 L178.96 78.80 L179.39 78.76 L179.82 78.32 L180.25 78.26 L180.70 78.65 L181.15 78.54 L181.61 78.22 L182.07 78.64 L182.54 78.53 L183.02 78.37 L183.50 78.92 L183.99 78.42 L184.49 78.82 L184.98 78.65 L185.49 78.57 L186.00 78.36 L186.51 78.74 L187.03 78.41 L187.56 78.55 L188.08 78.36 L188.61 78.45 L189.15 78.94 L189.69 78.61 L190.23 78.58 L190.78 78.48 L191.33 78.25 L191.89 78.43 L192.44 78.30 L193.00 78.34 L193.57 78.68 L194.13 78.27 L194.70 78.22 L195.27 78.81 L195.84 78.50 L196.41 78.79 L196.99 78.42 L197.56 78.44 L198.14 78.31 L198.72 78.54 L199.30 78.50 L199.88 78.70 L200.47 78.85 L201.05 78.43 L201.63 78.62 L202.22 78.83 L202.80 78.54 L203.38 78.34 L203.96 78.43 L204.55 78.58 L205.13 78.44 L205.71 78.26 L206.29 78.38 L206.87 78.21 L207.45 78.41 L208.02 78.36 L208.60 78.37 L209.17 78.22 L209.74 78.34 L210.31 78.84 L210.88 78.82 L211.44 78.22 L212.00 78.13 L212.56 78.64 L213.12 78.44 L213.67 78.67 L214.22 78.79 L214.77 78.61 L215.31 78.20 L215.85 78.69 L216.38 78.14 L216.91 78.23 L217.44 78.35 L217.96 78.13 L218.48 78.61 L218.99 78.77 L219.50 78.67 L220.00 78.45 L220.50 78.38 L221.01 78.77 L221.52 78.33 L222.04 78.78 L222.56 78.14 L223.09 78.19 L223.62 78.26 L224.16 78.70 L224.69 78.65 L225.24 78.69 L225.78 78.32 L226.33 78.85 L226.88 78.84 L227.44 78.69 L228.00 78.60 L228.56 78.14 L229.12 78.44 L229.69 78.84 L230.26 78.70 L230.83 78.66 L231.40 78.30 L231.98 78.87 L232.56 78.53 L233.13 78.14 L233.71 78.42 L234.29 78.34 L234.87 78.66 L235.46 78.28 L236.04 78.50 L236.62 78.84 L237.20 78.33 L237.79 78.21 L238.37 78.36 L238.95 78.53 L239.54 78.23 L240.12 78.57 L240.70 78.71 L241.28 78.18 L241.86 78.38 L242.44 78.14 L243.01 78.25 L243.59 78.45 L244.16 78.35 L244.73 78.38 L245.30 78.15 L245.87 78.89 L246.44 78.16 L247.00 78.88 L247.56 78.18 L248.12 78.44 L248.67 78.53 L249.22 78.83 L249.77 78.60 L250.31 78.62 L250.85 78.29 L251.39 78.12 L251.92 78.77 L252.45 78.24 L252.97 78.77 L253.49 78.23 L254.00 78.76 L254.51 78.36 L255.02 78.76 L255.52 78.39 L256.01 78.39 L256.50 78.29 L256.98 78.55 L257.46 78.75 L257.93 78.82 L258.39 78.49 L258.85 78.22 L259.30 78.56 L259.75 78.65 L260.19 78.45 L260.62 78.17 L261.04 78.45 L261.46 78.68 L261.86 78.77 L262.27 78.73 L262.66 78.33 L263.04 78.51 L263.42 78.37 L263.79 78.63 L264.15 78.82 L264.50 78.34 L264.84 78.55 L265.18 78.26 L265.50 78.36 L265.82 78.88 L266.12 78.79 L266.42 78.87 L266.70 78.75 L266.98 78.64 L267.24 78.34 L267.50 78.86 L267.50 76.12 L267.24 76.04 L266.98 76.01 L266.70 76.45 L266.42 76.00 L266.12 75.72 L265.82 75.77 L265.50 76.13 L265.18 76.43 L264.84 76.22 L264.50 76.14 L264.15 76.37 L263.79 75.84 L263.42 76.15 L263.04 76.16 L262.66 75.97 L262.27 76.16 L261.87 75.81 L261.46 76.50 L261.04 76.35 L260.62 76.47 L260.19 75.72 L259.75 76.37 L259.30 76.43 L258.85 76.26 L258.39 76.10 L257.93 75.74 L257.46 75.93 L256.98 75.99 L256.50 76.46 L256.01 75.83 L255.52 76.06 L255.02 76.24 L254.51 76.35 L254.01 75.90 L253.49 75.87 L252.97 75.75 L252.45 75.98 L251.92 76.26 L251.39 75.88 L250.85 76.38 L250.31 76.29 L249.77 75.75 L249.22 75.98 L248.67 76.49 L248.12 76.34 L247.56 76.10 L247.00 76.04 L246.44 75.92 L245.87 75.89 L245.30 76.48 L244.74 76.36 L244.16 76.12 L243.59 76.40 L243.01 75.93 L242.44 76.27 L241.86 76.33 L241.28 76.26 L240.70 75.83 L240.12 76.12 L239.54 75.96 L238.95 75.88 L238.37 75.84 L237.79 76.04 L237.20 75.78 L236.62 76.21 L236.04 76.14 L235.45 76.30 L234.87 75.96 L234.29 76.38 L233.71 76.33 L233.13 76.21 L232.55 76.29 L231.98 75.98 L231.40 76.06 L230.83 75.85 L230.26 76.46 L229.69 76.39 L229.12 76.08 L228.56 75.94 L228.00 76.13 L227.44 75.83 L226.88 75.94 L226.33 76.16 L225.78 76.42 L225.23 75.83 L224.69 76.18 L224.15 76.43 L223.62 75.77 L223.09 75.86 L222.56 76.30 L222.04 76.01 L221.52 76.46 L221.01 75.88 L220.50 76.50 L220.00 75.95 L219.50 76.30 L218.99 76.04 L218.48 76.36 L217.96 76.25 L217.44 76.20 L216.91 76.35 L216.38 76.47 L215.84 75.94 L215.30 75.78 L214.76 76.36 L214.22 76.23 L213.67 76.31 L213.11 75.98 L212.56 76.23 L212.00 75.97 L211.44 76.29 L210.87 75.82 L210.31 75.89 L209.74 76.19 L209.17 75.94 L208.59 76.34 L208.02 76.47 L207.44 76.12 L206.86 76.07 L206.29 75.99 L205.70 75.84 L205.13 76.46 L204.54 76.28 L203.96 76.00 L203.38 75.91 L202.79 76.09 L202.21 76.43 L201.63 76.36 L201.04 76.34 L200.46 76.06 L199.88 76.33 L199.30 76.43 L198.72 76.36 L198.14 75.78 L197.56 75.77 L196.98 75.96 L196.41 76.42 L195.83 75.88 L195.26 76.44 L194.69 76.33 L194.12 75.98 L193.56 76.28 L193.00 76.52 L192.44 76.33 L191.88 76.36 L191.33 75.89 L190.78 76.50 L190.23 76.25 L189.69 76.47 L189.15 76.33 L188.61 76.41 L188.08 76.42 L187.55 75.93 L187.02 75.86 L186.51 76.39 L185.99 76.26 L185.48 75.81 L184.98 75.80 L184.48 76.33 L183.99 75.85 L183.50 75.89 L183.02 76.54 L182.54 76.08 L182.07 75.81 L181.60 75.87 L181.15 76.27 L180.69 76.30 L180.25 75.86 L179.81 76.37 L179.38 76.30 L178.96 76.33 L178.54 76.58 L178.13 75.94 L177.73 75.93 L177.34 76.45 L176.95 76.50 L176.58 76.47 L176.21 76.26 L175.85 75.79 L175.50 76.08 L175.15 76.15 L174.82 76.44 L174.50 76.13 L174.18 76.35 L173.88 76.04 L173.58 75.97 L173.29 76.56 L173.02 75.80 L172.75 76.12 L172.50 76.45Z" fill="#000" stroke="none" stroke-width="0" />
<line x1="156.90" y1="82.00" x2="156.90" y2="88.00" stroke="#000" stroke-width="1.1"/>
<line x1="164.80" y1="82.00" x2="164.80" y2="88.00" stroke="#000" stroke-width="1.1"/>
<line x1="172.90" y1="82.00" x2="172.90" y2="87.00" stroke="#000" stroke-width="1.1"/>
<line x1="154.80" y1="62.30" x2="154.80" y2="71.00" stroke="#1a1a1a" stroke-width="0.95"/>
<path d="M151.90 70.00 L157.70 70.00 L154.80 75.80 Z" fill="#000" stroke="none" stroke-width="0" />
<line x1="162.10" y1="62.30" x2="162.10" y2="71.00" stroke="#1a1a1a" stroke-width="0.95"/>
<path d="M159.20 70.00 L165.00 70.00 L162.10 75.80 Z" fill="#000" stroke="none" stroke-width="0" />
<line x1="170.50" y1="58.90" x2="170.50" y2="68.20" stroke="#1a1a1a" stroke-width="0.95"/>
<path d="M167.60 67.20 L173.40 67.20 L170.50 73.00 Z" fill="#000" stroke="none" stroke-width="0" />
<text transform="translate(156.90 52.30) rotate(-90)" font-size="8.4" stroke="#000" stroke-width="0.12" >Fibrinogen</text>
<text transform="translate(164.80 52.30) rotate(-90)" font-size="8.8" stroke="#000" stroke-width="0.12" >Buffer</text>
<text transform="translate(173.50 45.70) rotate(-90)" font-size="8.6" stroke="#000" stroke-width="0.12" >ADP</text>
<path d="M150.84 146.35 L151.08 145.91 L151.34 145.45 L151.74 146.33 L152.04 145.48 L152.45 145.85 L152.87 145.88 L153.32 146.06 L153.74 145.40 L154.30 146.45 L154.72 145.33 L155.26 145.49 L155.82 145.83 L156.37 145.74 L156.91 145.33 L157.48 145.13 L158.12 145.75 L158.70 145.46 L159.32 145.46 L159.94 145.57 L160.58 145.82 L161.23 146.10 L161.77 144.81 L162.43 145.17 L163.11 145.92 L163.72 145.62 L164.34 145.58 L164.90 144.78 L165.49 144.43 L166.11 144.66 L166.75 145.31 L167.35 145.52 L167.91 145.46 L168.47 145.48 L168.93 144.40 L169.47 144.60 L170.01 145.04 L170.43 144.23 L170.95 145.05 L171.39 145.00 L171.79 144.81 L172.17 144.70 L172.49 144.07 L172.87 144.83 L173.13 144.14 L173.46 145.02 L173.17 140.94 L172.91 141.15 L172.63 141.44 L172.24 140.52 L171.89 140.72 L171.57 141.73 L171.17 141.84 L170.64 140.61 L170.24 141.44 L169.71 140.84 L169.21 140.96 L168.69 141.03 L168.14 140.89 L167.62 141.36 L167.05 141.32 L166.49 141.63 L165.91 141.85 L165.28 141.48 L164.69 141.83 L164.11 142.32 L163.48 142.25 L162.81 141.70 L162.22 142.29 L161.53 141.42 L160.91 141.61 L160.35 142.50 L159.67 141.71 L159.04 141.55 L158.51 142.69 L157.91 142.72 L157.27 142.16 L156.69 142.12 L156.12 142.19 L155.60 142.65 L155.07 142.90 L154.48 141.87 L154.01 142.34 L153.56 142.89 L153.08 142.62 L152.63 142.47 L152.21 142.43 L151.82 142.34 L151.48 142.66 L151.17 143.05 L150.81 142.10 L150.60 142.93Z" fill="#000" stroke="none" stroke-width="0" />
<line x1="173.30" y1="145.00" x2="173.30" y2="136.00" stroke="#000" stroke-width="1"/>
<path d="M173.01 137.94 L173.27 137.93 L173.57 138.02 L173.88 138.14 L174.23 138.24 L174.60 138.83 L174.99 138.61 L175.40 138.92 L175.83 138.18 L176.28 138.37 L176.76 138.73 L177.24 137.98 L177.75 138.58 L178.26 138.33 L178.80 138.77 L179.34 138.80 L179.89 137.84 L180.46 138.00 L181.03 138.44 L181.61 137.94 L182.20 138.29 L182.79 138.19 L183.38 137.73 L183.98 138.11 L184.58 138.26 L185.18 137.76 L185.78 138.50 L186.38 138.02 L186.97 138.00 L187.56 138.31 L188.15 138.86 L188.72 138.34 L189.29 138.71 L189.85 138.41 L190.39 138.08 L190.94 138.59 L191.46 138.75 L191.96 137.98 L192.46 138.50 L192.94 138.36 L193.40 138.25 L193.83 137.65 L194.26 137.96 L194.66 138.14 L195.04 137.84 L195.81 137.94 L196.51 137.51 L197.20 138.02 L197.82 138.13 L198.38 137.62 L198.92 137.75 L199.46 138.23 L199.95 138.45 L200.41 138.40 L200.77 137.36 L201.24 137.92 L201.63 137.61 L202.05 137.66 L202.41 137.18 L202.93 138.13 L203.27 137.32 L203.69 137.16 L204.21 137.75 L204.65 137.33 L205.18 137.51 L205.67 137.51 L206.17 137.56 L206.64 137.34 L207.16 137.53 L207.59 136.91 L208.06 136.66 L208.67 137.41 L209.18 137.39 L209.58 136.61 L210.14 136.92 L210.65 136.88 L211.05 136.07 L211.55 135.98 L212.11 136.24 L212.66 136.47 L213.14 136.23 L213.73 136.70 L214.25 136.69 L214.68 136.17 L215.12 135.74 L215.59 135.46 L216.21 136.09 L216.71 136.06 L217.15 135.65 L217.65 135.58 L218.16 135.55 L218.68 135.62 L219.17 135.50 L219.68 135.48 L220.17 135.38 L220.59 134.91 L221.10 134.90 L221.50 134.34 L222.08 134.65 L222.64 134.90 L223.18 135.05 L223.62 134.68 L223.94 133.72 L224.44 133.66 L225.05 134.14 L225.63 134.49 L225.93 133.46 L226.57 134.05 L226.92 133.27 L227.58 133.89 L228.13 134.02 L228.54 133.50 L229.09 133.58 L229.46 132.91 L229.90 132.55 L230.38 132.38 L230.97 132.66 L231.37 132.14 L231.97 132.43 L232.61 132.94 L232.90 131.99 L233.41 131.92 L233.89 131.77 L234.52 132.28 L234.89 131.63 L235.36 131.42 L235.84 131.25 L236.50 131.99 L236.95 131.75 L237.33 131.11 L237.86 131.26 L238.28 130.79 L238.87 131.22 L239.35 131.11 L239.77 130.60 L240.29 130.69 L240.88 131.21 L241.37 131.14 L241.75 130.39 L242.21 130.10 L242.69 129.90 L243.20 130.00 L243.69 129.87 L244.27 130.50 L244.71 130.03 L245.25 130.42 L245.78 130.67 L246.16 129.73 L246.71 130.22 L247.18 129.94 L247.66 129.80 L248.10 129.27 L248.62 129.57 L249.11 129.29 L249.63 129.27 L250.16 129.28 L250.69 129.21 L251.26 129.60 L251.79 129.39 L252.36 130.04 L252.86 129.17 L253.44 129.95 L253.94 129.19 L254.48 129.16 L255.00 128.88 L255.54 129.30 L256.05 129.23 L256.57 129.60 L257.06 129.42 L257.55 129.58 L258.03 129.78 L258.47 129.20 L258.91 129.21 L259.34 129.16 L260.00 129.18 L260.65 129.87 L261.28 129.40 L261.89 128.97 L262.48 129.12 L263.04 128.90 L263.57 129.68 L264.07 129.77 L264.54 129.52 L264.97 129.47 L265.36 129.07 L265.71 128.70 L265.99 129.72 L266.01 126.29 L265.73 126.00 L265.40 125.73 L265.02 126.23 L264.58 126.49 L264.11 126.82 L263.61 125.93 L263.06 126.73 L262.48 126.57 L261.88 126.13 L261.25 125.75 L260.61 126.87 L259.95 126.71 L259.26 126.44 L258.82 125.75 L258.40 126.54 L257.93 126.08 L257.44 125.77 L256.97 126.30 L256.47 126.19 L255.98 126.98 L255.44 126.34 L254.91 126.42 L254.39 126.96 L253.85 126.86 L253.27 126.21 L252.71 125.96 L252.19 126.72 L251.63 126.58 L251.10 127.07 L250.51 126.35 L249.96 126.45 L249.44 126.80 L248.90 126.77 L248.32 126.35 L247.81 126.27 L247.41 127.37 L246.90 127.28 L246.42 127.56 L245.82 126.72 L245.42 127.68 L244.80 126.73 L244.29 126.75 L243.92 127.80 L243.41 127.77 L242.81 127.16 L242.28 127.03 L241.76 127.03 L241.43 128.23 L240.75 127.15 L240.40 128.19 L239.79 127.57 L239.26 127.52 L238.76 127.61 L238.35 128.20 L237.80 128.02 L237.25 127.86 L236.87 128.62 L236.25 128.13 L235.87 128.89 L235.22 128.29 L234.79 128.74 L234.18 128.35 L233.76 128.88 L233.38 129.50 L232.82 129.35 L232.37 129.68 L231.77 129.35 L231.19 129.13 L230.79 129.66 L230.21 129.43 L229.78 129.80 L229.26 129.81 L228.73 129.72 L228.36 130.35 L227.90 130.60 L227.37 130.53 L226.95 130.93 L226.51 131.28 L225.80 130.34 L225.49 131.31 L224.95 131.19 L224.51 131.51 L223.94 131.24 L223.54 131.77 L223.06 131.92 L222.54 131.86 L222.02 131.80 L221.46 131.55 L221.12 132.41 L220.42 131.40 L220.09 132.28 L219.44 131.55 L219.10 132.43 L218.52 131.99 L218.14 132.67 L217.64 132.68 L217.08 132.38 L216.61 132.55 L216.15 132.83 L215.73 133.31 L215.23 133.33 L214.74 133.47 L214.12 132.81 L213.75 133.68 L213.16 133.16 L212.76 133.89 L212.22 133.68 L211.67 133.48 L211.15 133.40 L210.69 133.73 L210.21 133.90 L209.70 133.89 L209.14 133.55 L208.74 134.26 L208.18 133.82 L207.70 134.01 L207.28 134.55 L206.68 133.74 L206.32 134.74 L205.71 133.75 L205.35 134.72 L204.79 133.98 L204.37 134.82 L203.89 134.85 L203.43 134.84 L203.03 135.17 L202.59 134.91 L202.16 134.70 L201.72 134.28 L201.34 134.43 L200.93 134.20 L200.61 135.20 L200.15 134.75 L199.74 135.06 L199.26 134.84 L198.79 135.15 L198.28 135.47 L197.70 135.20 L197.09 135.05 L196.41 134.57 L195.74 135.47 L194.96 135.37 L194.59 135.22 L194.18 134.48 L193.78 135.27 L193.34 135.20 L192.89 135.27 L192.41 135.09 L191.91 134.79 L191.41 134.89 L190.88 134.67 L190.36 135.38 L189.81 134.97 L189.25 134.80 L188.68 134.81 L188.12 135.70 L187.53 134.60 L186.94 135.07 L186.35 135.15 L185.76 135.43 L185.16 135.59 L184.56 134.58 L183.97 135.74 L183.36 135.07 L182.77 135.35 L182.18 135.08 L181.59 135.34 L181.02 135.73 L180.44 134.71 L179.88 135.39 L179.32 135.05 L178.78 135.31 L178.25 135.60 L177.73 135.32 L177.23 134.81 L176.74 135.75 L176.27 134.74 L175.82 135.61 L175.39 135.78 L174.97 134.82 L174.58 135.15 L174.21 135.62 L173.86 134.97 L173.54 135.13 L173.25 134.84 L172.99 135.77Z" fill="#000" stroke="none" stroke-width="0" />
<line x1="155.50" y1="144.00" x2="155.50" y2="150.50" stroke="#000" stroke-width="1.1"/>
<line x1="163.60" y1="144.00" x2="163.60" y2="150.50" stroke="#000" stroke-width="1.1"/>
<line x1="172.90" y1="144.00" x2="172.90" y2="150.50" stroke="#000" stroke-width="1.1"/>
<line x1="153.10" y1="125.30" x2="153.10" y2="133.00" stroke="#1a1a1a" stroke-width="0.95"/>
<path d="M150.20 132.00 L156.00 132.00 L153.10 137.80 Z" fill="#000" stroke="none" stroke-width="0" />
<line x1="161.10" y1="125.30" x2="161.10" y2="133.00" stroke="#1a1a1a" stroke-width="0.95"/>
<path d="M158.20 132.00 L164.00 132.00 L161.10 137.80 Z" fill="#000" stroke="none" stroke-width="0" />
<line x1="170.20" y1="119.60" x2="170.20" y2="127.50" stroke="#1a1a1a" stroke-width="0.95"/>
<path d="M167.30 126.50 L173.10 126.50 L170.20 132.30 Z" fill="#000" stroke="none" stroke-width="0" />
<text transform="translate(164.20 119.80) rotate(-90)" font-size="7.8" stroke="#000" stroke-width="0.12" >JAQ1</text>
<path d="M151.03 211.31 L151.29 210.88 L151.59 211.48 L151.90 211.44 L152.23 211.22 L152.60 211.39 L152.98 211.33 L153.38 210.84 L153.81 210.88 L154.26 211.13 L154.72 211.18 L155.20 210.82 L155.70 211.66 L156.21 211.17 L156.74 211.51 L157.27 210.74 L157.83 211.08 L158.39 211.51 L158.96 211.56 L159.54 210.97 L160.13 211.48 L160.72 210.68 L161.32 210.61 L161.94 211.45 L162.55 211.02 L163.16 210.94 L163.78 211.30 L164.39 211.03 L165.01 211.36 L165.63 211.26 L166.24 211.06 L166.84 210.87 L167.45 210.87 L168.04 210.65 L168.63 210.47 L169.23 211.25 L169.80 210.77 L170.38 211.37 L170.93 211.12 L171.47 210.59 L172.02 211.29 L172.53 210.78 L173.04 210.85 L173.54 211.16 L174.00 210.79 L174.47 211.26 L174.90 210.74 L175.34 211.37 L175.74 211.42 L176.09 210.68 L176.45 210.62 L176.80 211.12 L177.14 210.83 L178.75 211.10 L179.69 209.85 L180.63 210.04 L181.90 209.53 L181.78 208.61 L181.26 209.12 L180.90 209.34 L181.30 209.38 L181.53 209.02 L181.93 209.32 L182.33 209.39 L182.71 208.58 L183.17 208.50 L183.66 208.50 L184.19 209.26 L184.67 208.39 L185.24 209.15 L185.75 208.33 L186.33 208.73 L186.94 209.38 L187.51 209.17 L188.02 208.46 L188.54 208.00 L189.15 208.23 L189.72 208.17 L190.42 208.69 L190.82 208.16 L191.18 207.50 L191.93 208.32 L192.45 208.16 L192.74 207.26 L193.38 207.49 L193.87 207.25 L194.43 207.21 L195.04 207.29 L195.61 207.24 L195.77 206.07 L196.48 206.42 L196.99 206.26 L197.36 205.74 L197.85 205.56 L198.57 205.91 L198.87 205.32 L199.31 205.10 L199.54 204.47 L200.29 204.87 L200.99 204.78 L201.37 204.17 L202.11 204.14 L202.52 203.65 L202.89 203.16 L203.04 202.45 L203.89 202.57 L204.35 202.28 L204.07 201.21 L204.99 201.47 L205.04 200.82 L205.26 200.37 L205.92 200.47 L205.76 199.63 L206.07 199.36 L206.74 199.24 L207.40 199.19 L207.81 198.87 L208.46 198.94 L208.81 198.61 L209.18 198.31 L209.33 197.63 L209.75 197.35 L210.11 196.90 L210.53 196.46 L211.34 196.86 L211.70 196.56 L212.19 196.46 L212.63 196.31 L213.02 196.08 L213.00 195.18 L213.69 195.40 L214.22 195.34 L214.40 194.63 L214.94 194.49 L215.17 193.68 L215.82 193.60 L216.72 193.93 L217.12 193.85 L217.33 193.32 L217.61 192.86 L218.18 193.01 L218.45 192.47 L218.85 192.18 L219.27 191.90 L219.79 191.84 L220.38 191.92 L220.86 191.71 L221.36 191.56 L221.59 190.73 L222.12 190.60 L222.63 190.43 L223.23 190.48 L223.86 190.63 L224.15 189.89 L224.71 189.88 L225.43 190.31 L225.62 189.32 L226.39 189.97 L226.71 189.38 L227.03 188.79 L227.53 188.68 L228.13 188.92 L228.51 188.42 L229.00 188.28 L229.49 188.19 L230.06 188.35 L230.40 187.66 L231.03 188.08 L231.54 188.05 L231.93 187.53 L232.40 187.32 L232.86 187.05 L233.49 187.50 L234.08 187.82 L234.49 187.34 L234.99 187.25 L235.51 187.27 L235.88 186.62 L236.57 187.37 L236.97 186.83 L237.52 186.94 L238.02 186.83 L238.54 186.84 L239.03 186.76 L239.38 186.03 L239.83 185.73 L240.43 186.14 L240.84 185.64 L241.30 185.37 L241.82 185.42 L242.47 186.11 L242.85 185.40 L243.41 185.66 L243.90 185.53 L244.26 184.78 L244.91 185.45 L245.23 184.46 L245.78 184.67 L246.42 185.30 L246.86 184.95 L247.38 184.95 L247.89 184.94 L248.37 184.76 L248.81 184.38 L249.36 184.56 L249.87 184.52 L250.39 184.53 L250.89 184.42 L251.40 184.35 L251.74 183.41 L252.24 183.29 L252.80 183.47 L253.31 183.41 L253.86 183.55 L254.29 183.11 L254.88 183.49 L255.41 183.57 L255.79 182.85 L256.33 183.05 L256.75 182.59 L257.34 183.09 L257.63 182.02 L258.11 181.95 L258.75 182.80 L259.16 182.48 L259.56 182.08 L260.12 182.00 L260.74 182.22 L261.21 181.49 L261.92 182.11 L262.50 181.97 L262.97 181.23 L263.54 181.04 L264.14 181.11 L264.86 181.93 L265.24 180.98 L265.85 181.35 L266.30 181.01 L266.88 181.60 L267.33 181.57 L267.70 181.32 L268.00 180.90 L268.25 180.43 L268.59 180.72 L267.94 177.06 L267.64 176.95 L267.52 178.13 L267.12 178.01 L266.72 178.05 L266.21 177.76 L265.75 177.85 L265.17 177.48 L264.65 177.58 L264.22 178.31 L263.68 178.52 L262.99 177.97 L262.44 178.25 L261.83 178.21 L261.32 178.75 L260.77 179.07 L260.18 179.15 L259.49 178.61 L259.07 179.46 L258.56 179.27 L258.11 179.40 L257.71 179.86 L257.15 179.51 L256.61 179.25 L256.17 179.58 L255.63 179.39 L255.31 180.37 L254.64 179.60 L254.18 179.87 L253.66 179.86 L253.17 180.05 L252.62 179.92 L252.28 180.81 L251.78 180.96 L251.13 180.31 L250.64 180.47 L250.29 181.37 L249.69 180.98 L249.25 181.36 L248.64 180.89 L248.22 181.40 L247.65 181.07 L247.17 181.23 L246.63 181.10 L246.32 182.14 L245.71 181.60 L245.33 182.30 L244.71 181.74 L244.19 181.76 L243.73 182.04 L243.23 182.13 L242.67 181.90 L242.27 182.49 L241.70 182.24 L241.16 182.12 L240.84 183.11 L240.36 183.31 L239.86 183.40 L239.21 182.82 L238.87 183.69 L238.29 183.42 L237.90 184.00 L237.28 183.58 L236.81 183.84 L236.23 183.54 L235.90 184.41 L235.26 183.87 L234.90 184.61 L234.21 183.88 L233.86 184.64 L233.40 184.93 L232.85 184.81 L232.32 184.81 L231.85 185.08 L231.21 184.64 L230.72 184.84 L230.19 184.85 L229.63 184.81 L229.14 185.01 L228.64 185.17 L228.38 186.18 L227.78 186.01 L227.29 186.20 L226.72 186.17 L226.24 186.41 L225.72 186.50 L225.40 187.15 L224.91 187.35 L224.24 187.10 L223.58 186.88 L223.03 186.96 L222.85 188.03 L222.25 188.00 L221.65 187.97 L221.10 188.10 L220.66 188.46 L220.18 188.72 L219.53 188.57 L219.37 189.54 L218.90 189.78 L218.09 189.19 L217.64 189.44 L217.34 189.97 L217.09 190.60 L216.23 189.81 L215.80 189.97 L215.88 191.17 L215.40 191.14 L214.42 190.72 L214.22 191.83 L213.45 191.69 L212.73 191.64 L212.70 192.72 L212.00 192.58 L211.66 192.99 L211.13 193.07 L210.43 192.85 L210.60 193.98 L210.22 194.23 L209.64 194.16 L209.23 194.36 L208.68 194.59 L208.15 194.78 L208.09 195.68 L207.05 195.00 L207.16 196.11 L206.62 196.22 L206.30 196.69 L205.73 196.85 L205.31 197.28 L204.36 197.08 L204.06 197.52 L204.10 198.33 L203.13 197.98 L202.96 198.54 L202.35 198.62 L202.69 199.71 L202.23 199.95 L201.91 200.35 L201.47 200.62 L200.74 200.51 L200.48 200.98 L200.04 201.22 L199.88 201.88 L199.50 202.27 L199.04 202.56 L198.46 202.34 L197.84 202.05 L197.41 202.17 L197.16 202.74 L196.67 202.80 L196.19 202.89 L195.94 203.60 L195.43 203.69 L194.99 203.97 L194.41 203.87 L194.07 204.45 L193.51 204.42 L192.98 204.44 L192.53 204.73 L192.15 205.24 L191.60 205.15 L190.95 204.65 L190.63 205.35 L190.14 205.33 L189.66 205.27 L189.25 205.72 L188.75 205.79 L188.13 205.00 L187.70 205.61 L187.22 206.11 L186.63 205.34 L186.13 205.65 L185.59 205.55 L185.08 205.82 L184.55 205.60 L184.05 205.76 L183.57 206.34 L183.03 205.48 L182.59 206.22 L182.08 205.58 L181.64 205.87 L181.26 206.52 L180.68 205.74 L179.82 205.74 L179.03 206.53 L177.95 207.19 L178.63 207.03 L179.15 206.48 L179.05 206.26 L178.31 206.08 L176.87 206.41 L176.61 206.56 L176.31 206.94 L175.94 206.24 L175.57 206.20 L175.20 206.83 L174.78 206.38 L174.35 206.67 L173.89 206.32 L173.44 206.76 L172.95 206.68 L172.45 207.08 L171.92 206.40 L171.40 206.64 L170.85 206.13 L170.31 207.06 L169.74 206.89 L169.16 206.86 L168.58 206.98 L167.98 206.52 L167.40 207.19 L166.79 206.82 L166.18 206.95 L165.57 206.80 L164.96 207.07 L164.33 206.30 L163.72 206.72 L163.10 206.07 L162.50 207.17 L161.89 206.66 L161.28 206.86 L160.68 206.99 L160.09 207.16 L159.49 206.31 L158.92 207.26 L158.34 206.25 L157.78 206.56 L157.23 206.35 L156.69 207.05 L156.17 206.71 L155.65 206.71 L155.16 207.18 L154.68 206.79 L154.21 206.50 L153.76 206.28 L153.34 206.64 L152.93 206.72 L152.55 206.99 L152.18 206.65 L151.84 206.92 L151.53 206.94 L151.23 206.64 L150.96 206.21Z" fill="#000" stroke="none" stroke-width="0" />
<line x1="155.50" y1="209.00" x2="155.50" y2="218.00" stroke="#000" stroke-width="1.1"/>
<line x1="165.20" y1="209.00" x2="165.20" y2="218.00" stroke="#000" stroke-width="1.1"/>
<line x1="176.30" y1="209.00" x2="176.30" y2="218.00" stroke="#000" stroke-width="1.1"/>
<line x1="154.70" y1="188.00" x2="154.70" y2="196.50" stroke="#1a1a1a" stroke-width="0.95"/>
<path d="M151.80 195.50 L157.60 195.50 L154.70 201.30 Z" fill="#000" stroke="none" stroke-width="0" />
<line x1="164.60" y1="188.00" x2="164.60" y2="196.50" stroke="#1a1a1a" stroke-width="0.95"/>
<path d="M161.70 195.50 L167.50 195.50 L164.60 201.30 Z" fill="#000" stroke="none" stroke-width="0" />
<line x1="174.50" y1="188.00" x2="174.50" y2="196.50" stroke="#1a1a1a" stroke-width="0.95"/>
<path d="M171.60 195.50 L177.40 195.50 L174.50 201.30 Z" fill="#000" stroke="none" stroke-width="0" />
<text transform="translate(166.50 184.20) rotate(-90)" font-size="8.5" stroke="#000" stroke-width="0.12" >Buffer</text>
<path d="M154.00 275.05 L154.26 274.84 L154.55 275.91 L154.86 275.23 L155.19 275.95 L155.55 274.81 L155.93 275.32 L156.32 275.21 L156.74 275.59 L157.17 275.43 L157.62 275.97 L158.09 275.21 L158.58 274.78 L159.08 275.66 L159.59 275.33 L160.12 275.95 L160.66 275.76 L161.21 275.16 L161.77 276.04 L162.34 274.91 L162.92 275.52 L163.50 275.26 L164.09 275.61 L164.69 275.78 L165.30 275.47 L165.91 276.08 L166.52 275.84 L167.13 275.24 L167.75 275.71 L168.36 275.10 L168.98 275.52 L169.60 275.82 L170.21 274.91 L170.82 275.94 L171.43 275.75 L172.03 275.15 L172.62 275.13 L173.21 276.07 L173.79 274.98 L174.37 276.04 L174.93 275.16 L175.49 274.87 L176.03 275.27 L176.57 276.06 L177.08 275.00 L177.59 275.34 L178.08 275.60 L178.56 275.15 L179.02 275.77 L179.46 275.49 L179.89 275.76 L180.29 275.22 L180.68 275.45 L181.05 275.59 L181.39 275.78 L181.72 275.86 L182.02 275.20 L183.65 274.96 L184.64 274.57 L185.24 275.41 L185.70 274.77 L186.44 273.66 L185.98 274.78 L185.73 274.72 L186.15 274.78 L186.52 274.98 L186.92 274.13 L187.41 274.76 L187.91 273.88 L188.46 274.36 L189.04 274.53 L189.60 273.76 L190.19 273.64 L190.83 274.20 L191.47 274.37 L192.04 273.92 L192.61 273.63 L193.37 274.20 L193.70 273.16 L194.51 273.77 L195.12 273.74 L195.55 273.31 L195.99 272.94 L196.14 272.06 L196.99 272.46 L197.15 271.67 L197.85 271.74 L198.04 271.05 L198.45 270.66 L199.26 270.78 L199.81 270.53 L200.17 270.04 L200.74 269.77 L200.36 268.63 L200.84 268.41 L201.12 267.97 L201.95 268.03 L201.81 267.18 L202.24 266.84 L203.11 266.87 L203.16 266.19 L203.40 265.67 L203.74 265.23 L204.69 265.29 L204.23 264.23 L204.56 263.80 L205.30 263.70 L205.83 263.44 L206.10 263.00 L206.33 262.55 L206.33 261.93 L207.48 262.07 L207.78 261.58 L208.10 261.16 L207.82 260.37 L208.05 259.96 L208.57 259.74 L208.40 259.10 L208.70 258.76 L208.72 258.22 L209.33 258.05 L209.27 257.40 L209.58 256.96 L210.31 256.78 L211.12 256.62 L211.53 256.07 L211.55 255.59 L211.16 254.72 L211.39 254.36 L212.39 254.64 L212.23 253.90 L212.44 253.46 L213.59 253.83 L212.97 252.63 L213.62 252.53 L214.41 252.56 L214.06 251.54 L214.47 251.20 L215.14 251.10 L215.95 251.11 L215.88 250.32 L215.91 249.60 L216.71 249.61 L216.74 248.89 L216.93 248.32 L217.99 248.57 L218.63 248.44 L218.76 247.82 L219.21 247.52 L218.91 246.49 L219.35 246.20 L219.88 245.99 L220.68 246.08 L220.67 245.37 L221.44 245.45 L221.02 244.26 L221.95 244.44 L222.20 243.93 L222.31 243.28 L223.38 243.61 L222.98 242.44 L223.39 242.09 L224.09 242.06 L224.65 241.89 L224.84 241.33 L225.50 241.27 L225.64 240.66 L226.21 240.52 L226.18 239.73 L226.99 239.86 L226.86 238.96 L227.66 239.11 L227.71 238.40 L228.08 238.07 L228.96 238.35 L229.20 237.88 L229.05 236.93 L230.25 237.66 L229.81 236.33 L230.36 236.27 L230.72 235.97 L231.73 236.46 L232.14 236.16 L231.94 234.99 L232.84 235.41 L233.43 235.39 L233.25 234.20 L233.66 233.90 L234.04 233.58 L235.04 234.26 L234.83 232.95 L235.65 233.37 L236.04 233.06 L236.53 232.94 L236.61 232.07 L237.36 232.41 L237.69 231.99 L238.36 232.19 L238.85 232.06 L239.03 231.37 L239.60 231.38 L239.89 230.87 L240.70 231.31 L240.72 230.31 L241.43 230.53 L241.95 230.44 L242.09 229.61 L242.80 229.86 L243.15 229.43 L243.70 229.40 L243.70 228.31 L244.55 228.85 L244.89 228.41 L245.27 228.05 L245.88 228.13 L246.38 228.01 L246.94 228.02 L247.27 227.56 L247.70 227.30 L247.99 226.78 L248.30 226.25 L248.90 226.37 L249.24 225.93 L249.75 225.85 L250.05 225.32 L251.02 226.25 L251.46 225.99 L251.88 225.66 L252.30 225.35 L252.49 224.50 L252.84 224.00 L253.79 224.92 L253.96 224.00 L254.67 224.39 L255.15 224.22 L255.25 223.14 L255.83 223.22 L256.33 223.11 L257.10 223.71 L257.35 222.97 L257.82 222.81 L258.22 222.47 L258.82 222.67 L259.01 221.72 L259.56 221.82 L259.91 221.31 L260.68 222.10 L260.94 221.23 L261.66 221.76 L262.21 221.69 L262.57 220.88 L263.06 220.43 L263.69 220.54 L264.52 221.42 L264.97 220.78 L265.54 220.66 L266.01 220.13 L266.48 219.69 L267.11 219.97 L267.55 219.52 L268.31 220.58 L268.57 219.53 L268.98 219.31 L269.42 219.39 L269.91 219.84 L270.26 219.82 L270.62 220.03 L269.58 215.77 L269.39 216.18 L268.97 215.78 L268.63 215.91 L268.33 216.43 L267.69 215.62 L267.25 215.84 L266.81 216.22 L266.40 216.83 L265.89 217.13 L265.32 217.20 L264.54 216.48 L263.97 216.67 L263.38 216.84 L262.92 217.52 L262.18 217.09 L261.75 217.84 L260.98 217.34 L260.43 217.59 L259.98 218.10 L259.21 217.54 L259.03 218.68 L258.25 217.99 L258.08 219.09 L257.24 218.27 L256.77 218.52 L256.27 218.68 L255.92 219.25 L255.69 220.08 L255.01 219.78 L254.48 219.86 L253.89 219.81 L253.56 220.39 L252.89 220.14 L252.47 220.50 L251.90 220.52 L251.81 221.62 L251.22 221.60 L250.82 221.99 L249.94 221.29 L249.59 221.80 L249.17 222.16 L248.84 222.64 L248.45 223.01 L248.00 223.26 L247.30 222.96 L246.70 222.88 L246.28 223.19 L245.84 223.45 L245.88 224.71 L244.93 223.92 L244.49 224.20 L243.96 224.29 L243.69 224.91 L243.33 225.34 L242.78 225.40 L242.63 226.24 L242.25 226.62 L241.16 225.66 L241.24 226.93 L240.68 226.99 L240.36 227.49 L239.40 226.82 L239.46 228.01 L238.72 227.69 L238.58 228.47 L238.09 228.59 L237.71 228.93 L236.82 228.32 L236.91 229.53 L236.49 229.80 L235.86 229.69 L235.58 230.23 L234.63 229.57 L234.31 230.04 L233.73 230.06 L233.26 230.29 L232.77 230.48 L232.41 230.92 L232.17 231.52 L231.50 231.46 L231.12 231.88 L231.15 232.88 L230.77 233.29 L230.13 233.32 L229.38 233.23 L228.90 233.53 L228.28 233.55 L228.64 234.83 L227.59 234.32 L227.82 235.41 L226.86 235.03 L226.39 235.28 L226.39 236.08 L225.45 235.78 L225.91 237.11 L224.74 236.56 L224.76 237.37 L224.20 237.54 L223.75 237.84 L223.66 238.52 L223.61 239.24 L223.21 239.59 L222.21 239.31 L221.94 239.81 L221.93 240.57 L221.16 240.55 L220.98 241.14 L220.73 241.66 L219.96 241.64 L219.33 241.78 L219.50 242.73 L218.91 242.90 L219.05 243.74 L217.96 243.37 L218.36 244.50 L217.43 244.31 L217.63 245.24 L216.44 244.83 L216.52 245.66 L216.09 246.01 L215.21 245.93 L214.87 246.37 L215.14 247.39 L214.51 247.55 L214.54 248.33 L213.46 248.07 L213.11 248.50 L212.56 248.73 L212.41 249.32 L212.72 250.33 L212.02 250.40 L211.24 250.39 L211.62 251.42 L211.16 251.68 L210.51 251.76 L210.48 252.36 L209.90 252.48 L209.38 252.62 L209.75 253.52 L208.97 253.40 L208.50 253.56 L208.20 254.28 L207.82 254.87 L207.89 255.72 L207.08 255.87 L207.05 256.53 L206.44 256.76 L206.67 257.49 L206.53 257.96 L206.00 258.16 L205.52 258.38 L205.89 259.14 L205.71 259.57 L205.17 259.76 L204.38 259.80 L204.00 260.16 L204.00 260.76 L203.89 261.31 L203.25 261.45 L203.61 262.39 L202.83 262.46 L202.23 262.66 L202.14 263.27 L201.50 263.44 L201.22 263.89 L201.11 264.49 L201.00 265.08 L200.78 265.57 L199.85 265.43 L199.54 265.81 L199.56 266.48 L199.40 266.97 L198.76 266.95 L198.71 267.53 L198.52 268.14 L197.86 268.20 L196.94 267.89 L197.26 269.11 L196.77 269.28 L195.90 268.87 L196.07 269.98 L195.29 269.58 L194.84 269.68 L194.35 269.66 L194.00 269.91 L193.56 269.97 L193.36 270.63 L192.88 270.54 L192.42 270.42 L192.00 270.50 L191.61 270.94 L191.11 270.99 L190.56 270.64 L190.07 271.28 L189.53 271.40 L188.96 270.62 L188.43 271.15 L187.89 270.66 L187.37 271.39 L186.86 271.33 L186.35 270.85 L185.89 271.35 L185.26 270.89 L184.52 270.56 L183.94 272.02 L184.76 270.57 L184.98 270.61 L184.56 270.71 L183.61 271.05 L181.98 269.98 L181.69 270.51 L181.37 271.25 L181.03 270.94 L180.67 270.90 L180.28 270.02 L179.88 270.92 L179.45 270.37 L179.01 270.65 L178.55 271.10 L178.08 270.22 L177.58 270.14 L177.08 270.04 L176.56 270.94 L176.03 270.77 L175.49 270.95 L174.93 270.70 L174.37 271.04 L173.79 270.88 L173.21 269.97 L172.62 270.78 L172.03 271.24 L171.43 271.08 L170.82 271.09 L170.21 270.59 L169.60 270.83 L168.98 270.16 L168.37 271.09 L167.75 270.35 L167.14 269.96 L166.52 270.36 L165.91 270.40 L165.30 270.72 L164.70 270.90 L164.10 270.92 L163.51 270.26 L162.92 271.24 L162.34 270.49 L161.77 270.06 L161.21 271.11 L160.66 271.26 L160.12 270.28 L159.60 270.25 L159.08 270.52 L158.58 270.13 L158.10 269.94 L157.63 270.61 L157.18 270.35 L156.74 270.78 L156.33 270.38 L155.93 269.96 L155.55 270.43 L155.20 270.37 L154.86 270.00 L154.55 270.58 L154.26 270.53 L154.00 270.81Z" fill="#000" stroke="none" stroke-width="0" />
<line x1="159.10" y1="273.00" x2="159.10" y2="282.50" stroke="#000" stroke-width="1.1"/>
<line x1="168.20" y1="273.00" x2="168.20" y2="282.50" stroke="#000" stroke-width="1.1"/>
<line x1="177.30" y1="273.00" x2="177.30" y2="282.50" stroke="#000" stroke-width="1.1"/>
<line x1="157.10" y1="255.30" x2="157.10" y2="263.00" stroke="#1a1a1a" stroke-width="0.95"/>
<path d="M154.20 262.00 L160.00 262.00 L157.10 267.80 Z" fill="#000" stroke="none" stroke-width="0" />
<line x1="165.80" y1="255.30" x2="165.80" y2="263.00" stroke="#1a1a1a" stroke-width="0.95"/>
<path d="M162.90 262.00 L168.70 262.00 L165.80 267.80 Z" fill="#000" stroke="none" stroke-width="0" />
<line x1="175.30" y1="255.30" x2="175.30" y2="263.00" stroke="#1a1a1a" stroke-width="0.95"/>
<path d="M172.40 262.00 L178.20 262.00 L175.30 267.80 Z" fill="#000" stroke="none" stroke-width="0" />
<text transform="translate(168.60 252.30) rotate(-90)" font-size="7.8" stroke="#000" stroke-width="0.12" >JAQ1</text>
<path d="M292.47 87.06 L292.74 87.03 L293.04 87.05 L293.35 86.76 L293.64 85.81 L294.12 87.03 L294.50 86.66 L294.93 86.63 L295.33 85.87 L295.90 87.00 L296.36 86.50 L296.83 85.86 L297.34 85.53 L297.90 85.65 L298.48 85.93 L299.03 85.57 L299.63 85.69 L300.26 86.02 L300.84 85.59 L301.46 85.59 L302.13 86.21 L302.70 85.37 L303.35 85.58 L304.01 85.89 L304.67 86.16 L305.28 85.82 L305.87 85.18 L306.53 85.41 L307.16 85.39 L307.74 84.83 L308.39 85.32 L308.97 84.93 L309.56 84.73 L310.17 85.02 L310.81 85.78 L311.28 84.53 L311.90 85.42 L312.45 85.56 L312.96 85.50 L313.47 85.58 L313.87 84.56 L314.39 85.40 L314.74 84.27 L315.24 85.41 L315.60 85.12 L315.93 84.70 L316.23 84.33 L316.55 84.52 L316.88 85.37 L316.57 81.33 L316.34 81.86 L315.98 81.12 L315.69 81.63 L315.36 82.00 L314.93 81.49 L314.54 81.79 L314.12 81.90 L313.67 81.99 L313.15 81.54 L312.70 82.15 L312.09 81.00 L311.60 81.60 L311.09 82.12 L310.50 81.70 L309.93 81.87 L309.39 82.47 L308.75 82.00 L308.17 82.42 L307.56 82.54 L306.87 81.76 L306.31 82.64 L305.69 82.81 L304.97 81.74 L304.42 82.88 L303.74 82.34 L303.11 82.54 L302.50 82.80 L301.87 82.84 L301.23 82.67 L300.57 82.14 L300.04 83.14 L299.41 82.83 L298.78 82.29 L298.21 82.42 L297.62 82.13 L297.09 82.33 L296.64 83.47 L296.07 82.80 L295.59 83.10 L295.15 83.54 L294.68 83.46 L294.21 82.92 L293.85 83.55 L293.46 83.54 L293.09 83.45 L292.71 82.74 L292.47 83.57 L292.22 83.86Z" fill="#000" stroke="none" stroke-width="0" />
<line x1="317.00" y1="85.00" x2="317.00" y2="76.80" stroke="#000" stroke-width="1"/>
<path d="M317.00 78.48 L317.25 78.88 L317.52 78.36 L317.79 78.96 L318.08 78.54 L318.38 78.85 L318.69 78.46 L319.00 79.14 L319.33 79.06 L319.67 79.10 L320.02 78.54 L320.37 79.11 L320.74 78.54 L321.11 78.73 L321.49 78.52 L321.88 78.85 L322.28 78.70 L322.69 78.38 L323.10 78.56 L323.53 78.80 L323.96 78.79 L324.39 78.90 L324.84 79.08 L325.29 79.22 L325.75 78.57 L326.22 78.66 L326.69 78.68 L327.17 78.41 L327.65 78.53 L328.14 78.40 L328.64 78.62 L329.14 78.88 L329.65 78.52 L330.16 78.51 L330.68 78.54 L331.20 78.86 L331.72 79.17 L332.25 78.62 L332.79 78.92 L333.33 78.77 L333.87 78.99 L334.42 79.24 L334.97 79.23 L335.53 78.48 L336.08 78.53 L336.64 78.69 L337.20 79.27 L337.77 78.81 L338.34 79.18 L338.91 79.01 L339.49 78.56 L340.06 79.02 L340.64 79.15 L341.21 79.29 L341.80 78.54 L342.38 78.96 L342.96 79.07 L343.54 78.68 L344.12 78.93 L344.71 78.55 L345.29 79.02 L345.88 79.07 L346.46 78.50 L347.04 79.08 L347.63 79.06 L348.21 79.33 L348.79 78.71 L349.37 79.33 L349.96 78.87 L350.53 79.29 L351.11 79.15 L351.69 79.09 L352.26 78.64 L352.83 78.71 L353.40 78.56 L353.97 78.89 L354.53 78.61 L355.09 79.35 L355.65 78.85 L356.21 78.92 L356.76 78.97 L357.31 79.14 L357.86 78.88 L358.39 79.22 L358.93 79.12 L359.47 79.17 L360.00 78.74 L360.47 78.83 L360.96 79.28 L361.45 79.31 L361.95 79.09 L362.45 78.59 L362.96 79.21 L363.47 78.64 L363.99 78.73 L364.51 78.59 L365.04 78.82 L365.57 79.45 L366.11 78.69 L366.65 79.44 L367.19 78.89 L367.74 78.88 L368.29 79.02 L368.85 78.65 L369.41 78.75 L369.97 79.15 L370.53 78.84 L371.10 79.25 L371.67 79.04 L372.24 79.42 L372.81 78.67 L373.38 79.22 L373.96 79.25 L374.54 79.32 L375.12 78.71 L375.70 78.80 L376.28 79.33 L376.87 78.84 L377.45 79.22 L378.03 78.76 L378.62 79.15 L379.20 79.20 L379.78 78.88 L380.37 79.12 L380.95 78.68 L381.53 78.85 L382.11 79.22 L382.69 79.20 L383.28 78.84 L383.85 79.24 L384.43 78.81 L385.00 79.34 L385.58 79.30 L386.15 79.37 L386.72 78.95 L387.28 78.73 L387.85 78.76 L388.41 79.13 L388.96 79.50 L389.52 79.09 L390.07 78.80 L390.62 79.15 L391.16 79.32 L391.70 79.37 L392.24 78.76 L392.77 79.12 L393.29 79.29 L393.81 78.99 L394.33 79.33 L394.84 79.04 L395.35 79.52 L395.85 79.25 L396.35 79.12 L396.84 78.96 L397.32 79.57 L397.80 78.84 L398.27 79.27 L398.74 78.79 L399.20 79.40 L399.65 78.81 L400.10 78.82 L400.53 78.78 L400.96 79.40 L401.39 78.83 L401.80 78.89 L402.21 79.47 L402.61 78.90 L403.00 79.12 L403.38 78.86 L403.75 79.59 L404.12 78.98 L404.47 79.53 L404.82 79.17 L405.16 79.28 L405.48 79.16 L405.80 79.40 L406.11 78.93 L406.41 78.85 L406.70 79.06 L406.97 78.99 L407.24 79.62 L407.49 79.51 L407.50 76.75 L407.25 76.90 L406.98 76.62 L406.71 76.82 L406.42 76.32 L406.12 76.20 L405.81 76.91 L405.50 76.40 L405.17 76.77 L404.83 76.19 L404.49 76.24 L404.13 76.38 L403.76 76.92 L403.39 76.81 L403.01 76.72 L402.62 76.35 L402.22 76.86 L401.81 76.55 L401.39 76.95 L400.97 76.89 L400.54 76.75 L400.11 76.17 L399.66 76.66 L399.21 76.62 L398.75 76.35 L398.28 76.74 L397.81 76.59 L397.34 76.20 L396.85 76.96 L396.36 76.44 L395.86 76.89 L395.36 76.17 L394.85 76.59 L394.34 76.31 L393.82 76.56 L393.30 76.78 L392.78 76.75 L392.24 76.63 L391.71 76.88 L391.17 76.51 L390.63 76.65 L390.08 76.52 L389.53 76.79 L388.98 76.20 L388.42 76.82 L387.85 76.91 L387.29 76.42 L386.73 76.32 L386.16 76.68 L385.59 76.11 L385.02 76.22 L384.44 76.74 L383.86 76.71 L383.28 76.66 L382.71 76.15 L382.13 76.33 L381.54 76.67 L380.96 76.30 L380.38 76.29 L379.79 76.55 L379.21 76.71 L378.63 76.82 L378.04 76.74 L377.46 76.42 L376.87 76.82 L376.29 76.22 L375.71 76.29 L375.13 76.39 L374.55 76.20 L373.97 76.69 L373.40 76.56 L372.82 76.76 L372.25 76.40 L371.68 76.72 L371.11 76.59 L370.54 76.19 L369.98 76.27 L369.42 76.79 L368.86 76.80 L368.30 76.65 L367.75 76.51 L367.20 76.41 L366.66 76.73 L366.12 76.05 L365.58 76.84 L365.05 76.24 L364.52 76.65 L364.00 76.25 L363.48 76.84 L362.97 76.61 L362.46 76.38 L361.96 76.67 L361.46 76.08 L360.97 76.32 L360.48 76.61 L360.01 76.17 L359.48 75.99 L358.95 76.28 L358.41 76.10 L357.87 75.99 L357.32 76.68 L356.77 76.81 L356.22 76.67 L355.67 76.21 L355.11 76.32 L354.54 76.31 L353.98 76.45 L353.41 76.69 L352.84 76.58 L352.27 76.61 L351.70 76.14 L351.12 76.49 L350.54 76.60 L349.97 75.97 L349.39 76.61 L348.81 76.42 L348.22 76.11 L347.64 76.63 L347.06 76.18 L346.47 76.37 L345.89 76.09 L345.30 76.37 L344.72 76.14 L344.14 76.19 L343.55 76.46 L342.97 76.55 L342.39 76.61 L341.81 76.00 L341.23 76.60 L340.65 75.99 L340.07 76.26 L339.50 76.55 L338.92 76.31 L338.35 76.06 L337.78 76.30 L337.22 76.00 L336.65 76.50 L336.09 76.72 L335.54 75.96 L334.98 76.39 L334.43 76.50 L333.89 76.00 L333.34 75.97 L332.80 76.34 L332.26 76.58 L331.73 76.67 L331.21 76.23 L330.68 76.60 L330.17 75.90 L329.66 76.51 L329.15 76.11 L328.65 76.33 L328.15 76.19 L327.66 76.01 L327.18 76.39 L326.70 76.14 L326.23 76.36 L325.76 75.89 L325.30 76.31 L324.85 76.53 L324.40 76.51 L323.97 75.86 L323.54 75.89 L323.11 76.29 L322.70 75.89 L322.29 76.12 L321.90 75.90 L321.50 76.05 L321.12 76.56 L320.75 76.65 L320.38 76.61 L320.03 76.18 L319.68 76.52 L319.34 76.37 L319.02 76.05 L318.70 76.00 L318.39 76.13 L318.09 76.25 L317.80 76.22 L317.53 76.28 L317.26 76.24 L317.00 76.66Z" fill="#000" stroke="none" stroke-width="0" />
<line x1="297.00" y1="85.00" x2="297.00" y2="91.40" stroke="#000" stroke-width="1.1"/>
<line x1="306.00" y1="85.00" x2="306.00" y2="91.40" stroke="#000" stroke-width="1.1"/>
<line x1="316.70" y1="84.00" x2="316.70" y2="90.00" stroke="#000" stroke-width="1.1"/>
<line x1="295.00" y1="65.00" x2="295.00" y2="72.50" stroke="#1a1a1a" stroke-width="0.95"/>
<path d="M292.10 71.50 L297.90 71.50 L295.00 77.30 Z" fill="#000" stroke="none" stroke-width="0" />
<line x1="303.75" y1="65.00" x2="303.75" y2="72.50" stroke="#1a1a1a" stroke-width="0.95"/>
<path d="M300.85 71.50 L306.65 71.50 L303.75 77.30 Z" fill="#000" stroke="none" stroke-width="0" />
<line x1="313.00" y1="59.50" x2="313.00" y2="68.50" stroke="#1a1a1a" stroke-width="0.95"/>
<path d="M310.10 67.50 L315.90 67.50 L313.00 73.30 Z" fill="#000" stroke="none" stroke-width="0" />
<text transform="translate(297.70 55.40) rotate(-90)" font-size="8.8" stroke="#000" stroke-width="0.12" >Fibrinogen</text>
<text transform="translate(306.70 55.40) rotate(-90)" font-size="8.8" stroke="#000" stroke-width="0.12" >Buffer</text>
<text transform="translate(316.70 54.40) rotate(-90)" font-size="9" stroke="#000" stroke-width="0.12" >ADP</text>
<path d="M288.60 145.64 L288.87 145.88 L289.16 145.99 L289.48 146.61 L289.83 145.41 L290.21 146.25 L290.60 146.73 L291.02 146.59 L291.47 145.77 L291.93 145.92 L292.41 145.93 L292.91 145.72 L293.42 145.97 L293.95 146.64 L294.50 145.74 L295.06 146.53 L295.63 146.42 L296.21 146.54 L296.81 146.32 L297.41 146.58 L298.02 146.15 L298.63 146.55 L299.25 146.58 L299.88 146.63 L300.51 146.71 L301.14 146.35 L301.76 145.47 L302.39 146.17 L303.02 145.88 L303.65 146.50 L304.27 145.70 L304.88 145.75 L305.49 145.86 L306.09 146.52 L306.69 145.50 L307.27 146.44 L307.84 146.05 L308.40 146.52 L308.95 145.83 L309.48 146.65 L309.99 146.66 L310.49 145.84 L310.97 146.20 L311.43 146.22 L311.88 146.13 L312.30 145.98 L312.69 146.33 L313.07 145.91 L313.42 146.74 L313.74 145.57 L314.03 145.45 L314.30 146.01 L314.30 142.60 L314.03 142.77 L313.74 142.32 L313.42 142.63 L313.07 143.09 L312.69 143.31 L312.30 142.37 L311.88 142.92 L311.43 142.44 L310.97 143.45 L310.49 142.38 L309.99 142.57 L309.48 142.94 L308.95 142.71 L308.40 142.26 L307.84 143.04 L307.27 143.32 L306.69 143.51 L306.09 143.28 L305.49 143.56 L304.88 143.46 L304.27 143.12 L303.65 142.38 L303.02 142.50 L302.39 142.96 L301.76 142.38 L301.14 142.69 L300.51 142.56 L299.88 143.41 L299.25 142.41 L298.63 143.12 L298.02 143.13 L297.41 143.41 L296.81 143.07 L296.21 143.25 L295.63 142.54 L295.06 142.21 L294.50 142.31 L293.95 142.54 L293.42 142.71 L292.91 142.33 L292.41 143.45 L291.93 143.11 L291.47 143.09 L291.02 142.45 L290.60 143.14 L290.21 142.34 L289.83 142.53 L289.48 142.80 L289.16 142.45 L288.87 143.34 L288.60 142.56Z" fill="#000" stroke="none" stroke-width="0" />
<line x1="314.30" y1="146.00" x2="314.30" y2="138.30" stroke="#000" stroke-width="1"/>
<path d="M314.04 140.13 L314.33 140.21 L314.69 140.45 L315.11 139.92 L315.61 140.45 L316.14 140.51 L316.69 140.08 L317.28 140.32 L317.86 139.83 L318.45 139.93 L319.02 139.77 L319.59 140.03 L320.07 139.66 L320.66 140.41 L321.13 140.18 L321.61 140.25 L322.09 140.07 L322.56 139.66 L323.06 139.46 L323.67 139.63 L324.35 139.86 L324.97 139.36 L325.73 139.21 L326.16 139.16 L326.54 138.86 L326.96 138.59 L327.47 138.57 L327.98 138.46 L328.37 137.91 L329.08 138.32 L329.49 137.75 L330.10 137.79 L330.67 137.68 L331.11 137.17 L331.79 137.40 L332.32 137.21 L332.72 136.67 L333.41 137.02 L333.91 136.86 L334.15 136.01 L334.79 136.42 L335.04 135.76 L335.56 136.02 L335.84 135.66 L336.54 135.36 L337.12 135.12 L337.72 135.36 L338.07 134.87 L338.47 134.70 L338.95 134.76 L339.36 134.51 L339.92 134.53 L340.49 134.34 L340.96 134.11 L341.47 133.97 L341.78 133.41 L342.48 133.54 L342.84 133.05 L343.33 132.80 L343.92 132.71 L344.18 132.05 L344.82 132.09 L345.40 132.04 L345.66 131.44 L346.32 131.63 L346.61 131.03 L347.08 130.90 L347.54 130.83 L347.67 130.20 L348.29 130.54 L348.55 130.17 L348.87 129.80 L349.41 129.76 L349.86 129.25 L350.73 129.57 L351.28 128.61 L351.75 128.85 L352.09 128.63 L352.48 128.49 L353.05 128.81 L353.36 128.31 L353.78 128.09 L354.35 128.26 L354.72 127.78 L355.21 127.61 L355.75 127.59 L356.21 127.27 L356.68 126.97 L357.17 126.70 L357.71 126.56 L358.27 126.47 L358.79 126.24 L359.49 126.62 L360.07 126.60 L360.52 126.16 L360.95 125.63 L361.56 125.76 L362.16 125.87 L362.60 125.44 L363.22 125.70 L363.66 125.34 L364.04 124.77 L364.54 124.72 L365.12 125.09 L365.52 124.49 L366.05 124.43 L366.63 124.73 L367.09 124.38 L367.60 124.35 L368.07 124.11 L368.67 124.61 L369.13 124.31 L369.55 123.80 L370.07 123.87 L370.52 123.55 L371.08 124.00 L371.55 123.73 L372.05 123.78 L372.57 123.97 L373.00 123.45 L373.55 123.89 L374.04 123.81 L374.45 123.11 L374.97 123.25 L375.42 122.88 L375.99 123.46 L376.41 122.76 L376.95 123.03 L377.47 123.10 L377.97 122.90 L378.53 123.28 L379.00 122.94 L379.47 122.68 L380.03 123.05 L380.51 122.89 L381.02 123.00 L381.44 122.38 L381.92 122.28 L382.40 122.13 L382.92 122.35 L383.45 122.66 L383.95 122.61 L384.38 121.91 L384.91 122.21 L385.42 122.17 L385.96 122.41 L386.47 122.23 L386.97 121.77 L387.55 122.22 L388.08 122.05 L388.64 122.02 L389.17 121.45 L389.79 121.93 L390.24 121.85 L390.70 121.59 L391.21 122.04 L391.70 121.58 L392.24 121.88 L392.77 121.56 L393.32 121.49 L393.89 121.53 L394.47 121.74 L395.04 121.67 L395.64 121.91 L396.22 121.68 L396.80 121.58 L397.38 121.24 L397.96 121.04 L398.55 121.07 L399.14 121.73 L399.70 121.36 L400.26 121.56 L400.80 121.23 L401.34 121.09 L401.87 121.60 L402.36 121.07 L402.84 121.18 L403.32 121.67 L403.76 121.54 L404.18 121.64 L404.57 121.62 L404.94 121.67 L405.26 121.37 L405.57 121.55 L405.83 120.91 L405.75 118.41 L405.50 118.81 L405.20 118.74 L404.86 118.55 L404.50 118.69 L404.12 119.02 L403.70 119.01 L403.26 118.83 L402.80 119.10 L402.31 118.83 L401.81 119.16 L401.29 119.16 L400.74 118.51 L400.20 118.69 L399.64 118.92 L399.08 119.29 L398.49 118.63 L397.91 118.95 L397.31 118.69 L396.73 119.07 L396.15 119.29 L395.55 118.97 L394.97 119.39 L394.38 119.33 L393.81 119.38 L393.21 118.70 L392.66 118.80 L392.11 118.91 L391.59 119.09 L391.05 118.76 L390.55 118.85 L390.09 119.41 L389.64 119.49 L389.03 119.30 L388.44 119.21 L387.89 119.58 L387.32 119.47 L386.80 119.78 L386.26 119.84 L385.73 119.90 L385.18 119.67 L384.62 119.32 L384.12 119.49 L383.62 119.55 L383.18 120.17 L382.66 120.06 L382.11 119.64 L381.64 119.90 L381.13 119.84 L380.64 119.96 L380.13 119.91 L379.64 119.99 L379.20 120.49 L378.69 120.52 L378.12 120.07 L377.61 120.11 L377.12 120.37 L376.63 120.48 L376.12 120.44 L375.66 120.73 L375.14 120.56 L374.66 120.71 L374.22 121.19 L373.69 120.94 L373.16 120.75 L372.72 121.19 L372.20 121.09 L371.72 121.28 L371.18 121.06 L370.77 121.76 L370.21 121.42 L369.68 121.32 L369.25 121.88 L368.74 121.94 L368.12 121.35 L367.71 122.07 L367.18 122.03 L366.56 121.65 L366.04 121.76 L365.57 122.16 L365.12 122.64 L364.50 122.38 L364.13 122.98 L363.62 123.07 L362.93 122.46 L362.46 122.77 L362.07 123.44 L361.37 122.97 L360.98 123.65 L360.27 123.22 L359.72 123.38 L359.17 123.51 L358.67 123.86 L358.23 124.38 L357.70 124.58 L357.02 124.28 L356.63 124.93 L355.98 124.70 L355.42 124.76 L355.04 125.36 L354.37 125.01 L354.01 125.59 L353.57 125.84 L353.01 125.72 L352.63 126.09 L352.11 125.99 L351.72 126.21 L351.23 126.06 L350.96 126.50 L350.64 126.76 L349.69 126.67 L349.18 127.46 L348.49 127.48 L347.78 127.29 L347.39 127.71 L346.93 127.83 L346.70 128.35 L346.10 128.11 L345.83 128.52 L345.57 129.00 L345.07 129.16 L344.51 129.23 L343.98 129.42 L343.78 130.21 L342.94 129.86 L342.65 130.48 L342.19 130.78 L341.71 131.05 L341.00 130.86 L340.91 131.76 L340.44 131.93 L340.00 132.10 L339.35 131.71 L338.88 131.89 L338.63 132.42 L338.26 132.52 L337.97 132.87 L337.57 132.95 L337.10 133.00 L336.54 133.06 L335.95 133.41 L335.06 133.20 L334.61 133.13 L334.35 133.69 L333.86 133.66 L333.57 134.30 L332.99 134.16 L332.60 134.64 L331.87 134.19 L331.38 134.47 L330.84 134.61 L330.34 134.93 L329.72 134.85 L329.38 135.62 L328.82 135.73 L328.16 135.50 L327.75 136.00 L327.32 136.36 L326.73 136.16 L326.33 136.50 L325.82 136.35 L325.37 136.29 L325.16 136.94 L324.30 136.43 L323.70 136.53 L323.19 136.65 L322.82 137.48 L322.28 136.72 L321.86 136.79 L321.44 137.09 L320.98 137.45 L320.45 137.12 L319.87 136.78 L319.40 137.08 L318.89 137.22 L318.34 137.07 L317.78 137.50 L317.19 136.93 L316.63 137.46 L316.07 136.90 L315.56 137.63 L315.06 137.15 L314.63 137.52 L314.25 137.09 L313.97 137.78Z" fill="#000" stroke="none" stroke-width="0" />
<line x1="293.50" y1="145.00" x2="293.50" y2="155.60" stroke="#000" stroke-width="1.1"/>
<line x1="302.80" y1="145.00" x2="302.80" y2="155.60" stroke="#000" stroke-width="1.1"/>
<line x1="312.90" y1="145.00" x2="312.90" y2="155.60" stroke="#000" stroke-width="1.1"/>
<line x1="291.70" y1="126.90" x2="291.70" y2="134.60" stroke="#1a1a1a" stroke-width="0.95"/>
<path d="M288.80 133.60 L294.60 133.60 L291.70 139.40 Z" fill="#000" stroke="none" stroke-width="0" />
<line x1="301.10" y1="126.90" x2="301.10" y2="134.60" stroke="#1a1a1a" stroke-width="0.95"/>
<path d="M298.20 133.60 L304.00 133.60 L301.10 139.40 Z" fill="#000" stroke="none" stroke-width="0" />
<line x1="310.60" y1="121.20" x2="310.60" y2="129.60" stroke="#1a1a1a" stroke-width="0.95"/>
<path d="M307.70 128.60 L313.50 128.60 L310.60 134.40 Z" fill="#000" stroke="none" stroke-width="0" />
<text transform="translate(303.60 123.30) rotate(-90)" font-size="8.1" stroke="#000" stroke-width="0.12" >JAQ1</text>
<path d="M293.00 207.31 L293.26 207.24 L293.55 206.96 L293.87 207.46 L294.21 206.66 L294.57 207.06 L294.95 206.67 L295.36 206.97 L295.79 206.77 L296.23 207.06 L296.70 207.10 L297.18 207.39 L297.67 207.47 L298.19 206.65 L298.71 207.48 L299.26 207.06 L299.81 206.54 L300.37 206.64 L300.95 207.15 L301.53 207.47 L302.12 206.88 L302.72 207.16 L303.32 207.39 L303.93 206.89 L304.55 206.83 L305.16 206.77 L305.78 206.60 L306.40 207.08 L307.02 207.04 L307.64 207.37 L308.25 207.22 L308.87 207.53 L309.48 207.25 L310.08 206.59 L310.68 207.51 L311.27 207.11 L311.85 206.95 L312.42 207.13 L312.99 206.55 L313.54 206.71 L314.08 206.64 L314.60 206.80 L315.12 207.05 L315.62 207.50 L316.10 207.23 L316.56 207.36 L317.00 206.64 L317.43 206.79 L317.84 206.88 L318.23 207.47 L318.59 207.51 L318.93 207.16 L319.25 207.23 L319.55 206.86 L321.59 206.60 L322.56 206.29 L323.00 203.26 L323.04 204.32 L322.73 205.90 L322.77 205.71 L322.97 205.22 L323.46 205.45 L324.04 205.52 L324.63 205.27 L325.01 204.31 L325.99 204.00 L326.46 204.07 L326.74 203.79 L326.98 203.42 L327.55 203.51 L327.59 202.75 L327.93 202.43 L328.34 202.16 L328.90 202.11 L329.36 201.88 L329.68 201.41 L330.15 201.14 L330.86 201.23 L331.11 200.61 L331.40 200.05 L332.21 200.25 L332.38 199.49 L332.80 199.12 L333.38 198.98 L334.00 198.93 L334.36 198.48 L334.87 198.28 L335.30 197.99 L335.83 197.85 L335.98 197.16 L336.41 196.87 L337.05 196.89 L337.37 196.38 L337.96 196.30 L338.33 195.84 L338.82 195.57 L339.16 195.05 L339.98 195.33 L340.13 194.49 L340.75 194.44 L341.29 194.26 L341.81 194.06 L342.31 193.86 L342.60 193.30 L343.05 193.04 L343.56 192.90 L343.94 192.58 L344.16 192.01 L344.83 192.23 L345.04 191.72 L345.50 191.66 L345.76 191.31 L346.09 191.12 L346.71 190.67 L347.29 190.44 L347.58 189.97 L348.21 190.21 L348.23 189.61 L348.71 189.77 L348.90 189.40 L349.17 188.97 L349.76 188.95 L350.58 189.07 L350.90 188.86 L351.25 188.67 L351.67 188.57 L352.07 188.38 L352.28 187.71 L352.79 187.71 L353.21 187.45 L353.73 187.39 L354.12 187.00 L354.66 186.94 L355.19 186.85 L355.66 186.56 L356.23 186.51 L356.74 186.32 L357.12 185.77 L357.71 185.75 L358.18 185.41 L358.81 185.49 L359.28 185.15 L359.75 184.79 L360.31 184.70 L360.75 184.55 L361.28 184.65 L361.61 184.17 L362.15 184.30 L362.59 184.14 L362.96 183.75 L363.43 183.66 L364.01 183.92 L364.40 183.58 L364.88 183.53 L365.25 183.07 L365.81 183.24 L366.22 182.89 L366.66 182.60 L367.23 182.76 L367.75 182.71 L368.18 182.29 L368.66 182.07 L369.16 181.84 L369.70 181.77 L370.34 182.02 L370.89 181.88 L371.38 181.45 L372.00 181.55 L372.48 180.96 L372.96 181.08 L373.41 181.09 L373.76 180.59 L374.27 180.74 L374.72 180.63 L375.18 180.51 L375.69 180.60 L376.07 180.09 L376.63 180.39 L377.06 180.01 L377.65 180.40 L378.09 180.07 L378.55 179.79 L379.06 179.69 L379.60 179.78 L380.04 179.35 L380.58 179.38 L381.09 179.32 L381.58 179.05 L382.11 179.04 L382.63 178.94 L383.16 178.94 L383.74 179.13 L384.19 178.67 L384.74 178.72 L385.20 178.33 L385.74 178.36 L386.33 178.64 L386.82 178.39 L387.37 178.48 L387.81 178.02 L388.35 178.05 L388.82 177.72 L389.34 177.72 L389.83 177.55 L390.37 177.66 L390.90 177.68 L391.46 177.73 L392.03 177.85 L392.54 177.43 L393.09 177.25 L393.65 177.06 L394.24 177.08 L394.85 177.18 L395.41 176.86 L396.06 177.26 L396.57 176.58 L397.21 176.80 L397.78 176.57 L398.37 176.50 L399.01 176.87 L399.54 176.39 L400.14 176.51 L400.68 176.28 L401.22 176.05 L401.78 176.15 L402.31 176.02 L402.80 175.70 L403.40 176.32 L403.86 176.05 L404.32 175.84 L404.75 175.56 L405.24 175.89 L405.65 175.80 L406.05 175.73 L406.41 175.60 L406.77 175.59 L407.09 175.50 L407.35 175.20 L407.68 175.57 L407.34 173.13 L407.09 173.35 L406.77 173.16 L406.50 173.57 L406.13 173.48 L405.77 173.64 L405.38 173.72 L404.95 173.69 L404.47 173.46 L404.06 173.85 L403.55 173.70 L403.04 173.63 L402.58 174.04 L402.01 173.73 L401.46 173.73 L400.92 173.84 L400.40 174.20 L399.81 174.09 L399.29 174.53 L398.69 174.47 L398.09 174.51 L397.46 174.29 L396.92 174.74 L396.29 174.59 L395.73 174.89 L395.17 175.18 L394.53 174.92 L393.96 175.17 L393.32 174.88 L392.75 174.98 L392.22 175.33 L391.69 175.64 L391.10 175.49 L390.59 175.73 L390.05 175.72 L389.57 176.05 L389.08 176.19 L388.52 175.96 L387.94 175.68 L387.45 175.94 L387.02 176.48 L386.46 176.37 L385.89 176.15 L385.39 176.39 L384.90 176.65 L384.30 176.33 L383.80 176.57 L383.28 176.65 L382.85 177.27 L382.26 176.99 L381.70 176.91 L381.17 176.92 L380.66 177.07 L380.21 177.51 L379.72 177.75 L379.17 177.64 L378.65 177.65 L378.23 178.17 L377.65 177.90 L377.20 178.24 L376.62 177.92 L376.22 178.40 L375.68 178.24 L375.27 178.68 L374.73 178.45 L374.25 178.49 L373.90 179.11 L373.39 178.95 L372.97 179.14 L372.51 179.15 L371.99 178.90 L371.49 179.40 L370.94 179.67 L370.25 179.34 L369.79 179.86 L369.14 179.60 L368.74 180.26 L368.06 179.85 L367.64 180.36 L367.05 180.21 L366.54 180.33 L366.12 180.75 L365.65 180.97 L365.10 180.87 L364.75 181.44 L364.25 181.50 L363.63 181.15 L363.26 181.59 L362.91 182.07 L362.45 182.20 L361.86 181.93 L361.41 182.09 L360.94 182.16 L360.62 182.70 L360.05 182.49 L359.70 182.93 L359.13 183.02 L358.53 183.03 L357.97 183.17 L357.53 183.64 L357.00 183.86 L356.33 183.70 L355.90 184.17 L355.33 184.25 L354.93 184.74 L354.44 185.00 L353.88 185.05 L353.37 185.20 L352.97 185.58 L352.42 185.59 L352.01 185.89 L351.52 185.97 L351.08 186.12 L350.65 186.25 L350.27 186.46 L349.84 186.50 L349.62 186.96 L348.80 186.91 L348.53 187.68 L347.90 187.51 L347.72 188.06 L347.12 187.81 L346.88 188.15 L346.51 188.32 L346.38 189.00 L345.52 188.73 L344.98 189.27 L344.67 189.47 L344.31 189.66 L344.19 190.28 L343.78 190.47 L343.16 190.33 L342.66 190.42 L342.33 190.84 L342.10 191.45 L341.64 191.70 L340.94 191.56 L340.67 192.16 L340.12 192.32 L339.75 192.79 L339.16 192.88 L338.52 192.91 L338.18 193.44 L337.84 193.97 L337.16 193.93 L336.86 194.51 L336.37 194.77 L335.63 194.60 L335.52 195.45 L334.95 195.53 L334.68 196.05 L334.20 196.27 L333.61 196.34 L333.26 196.80 L332.57 196.75 L332.36 197.44 L331.72 197.48 L331.20 197.71 L330.71 198.01 L330.47 198.65 L329.99 198.93 L329.29 198.88 L329.00 199.42 L328.63 199.83 L327.84 199.59 L327.69 200.29 L327.13 200.33 L326.86 200.80 L326.59 201.22 L325.99 201.09 L325.68 201.37 L325.20 201.34 L325.16 201.96 L324.84 202.04 L323.94 202.38 L323.43 202.85 L322.99 203.02 L322.68 203.11 L322.44 203.32 L321.96 202.94 L321.28 203.12 L320.29 205.12 L321.07 206.52 L321.81 203.48 L321.46 203.41 L319.44 202.60 L319.18 202.95 L318.88 203.35 L318.54 202.89 L318.18 202.52 L317.80 202.86 L317.41 203.37 L316.98 202.78 L316.54 202.55 L316.08 203.46 L315.60 203.13 L315.11 203.21 L314.60 202.65 L314.07 202.60 L313.53 202.70 L312.98 203.33 L312.42 202.71 L311.85 202.63 L311.27 203.53 L310.68 203.22 L310.08 203.11 L309.48 203.53 L308.87 202.86 L308.26 202.61 L307.64 202.86 L307.03 203.41 L306.41 203.33 L305.79 203.52 L305.17 202.56 L304.56 202.56 L303.94 202.92 L303.33 202.86 L302.73 202.98 L302.13 202.57 L301.54 202.84 L300.96 202.96 L300.38 203.23 L299.82 203.31 L299.27 203.20 L298.73 203.13 L298.20 202.93 L297.69 202.53 L297.19 203.14 L296.71 203.35 L296.24 202.74 L295.80 203.14 L295.37 203.01 L294.96 203.37 L294.58 203.10 L294.21 202.82 L293.87 202.58 L293.56 202.68 L293.26 203.27 L293.00 202.82Z" fill="#000" stroke="none" stroke-width="0" />
<line x1="297.50" y1="205.00" x2="297.50" y2="213.50" stroke="#000" stroke-width="1.1"/>
<line x1="306.80" y1="205.00" x2="306.80" y2="215.60" stroke="#000" stroke-width="1.1"/>
<line x1="315.90" y1="205.00" x2="315.90" y2="216.60" stroke="#000" stroke-width="1.1"/>
<line x1="295.10" y1="185.70" x2="295.10" y2="193.60" stroke="#1a1a1a" stroke-width="0.95"/>
<path d="M292.20 192.60 L298.00 192.60 L295.10 198.40 Z" fill="#000" stroke="none" stroke-width="0" />
<line x1="304.60" y1="185.70" x2="304.60" y2="193.60" stroke="#1a1a1a" stroke-width="0.95"/>
<path d="M301.70 192.60 L307.50 192.60 L304.60 198.40 Z" fill="#000" stroke="none" stroke-width="0" />
<line x1="313.90" y1="185.70" x2="313.90" y2="193.60" stroke="#1a1a1a" stroke-width="0.95"/>
<path d="M311.00 192.60 L316.80 192.60 L313.90 198.40 Z" fill="#000" stroke="none" stroke-width="0" />
<text transform="translate(307.20 184.30) rotate(-90)" font-size="8.5" stroke="#000" stroke-width="0.12" >Buffer</text>
<path d="M295.00 277.04 L295.26 276.99 L295.55 276.83 L295.87 276.98 L296.21 276.74 L296.57 277.47 L296.96 277.09 L297.38 277.04 L297.81 277.43 L298.26 277.18 L298.73 277.33 L299.22 277.31 L299.73 276.33 L300.24 276.84 L300.78 277.15 L301.32 277.36 L301.88 277.40 L302.46 276.36 L303.04 276.41 L303.62 277.08 L304.22 276.52 L304.82 276.67 L305.43 277.42 L306.04 277.53 L306.66 277.30 L307.28 277.45 L307.90 277.22 L308.52 276.46 L309.13 277.01 L309.75 277.38 L310.36 277.19 L310.97 277.29 L311.57 276.59 L312.17 276.69 L312.76 277.35 L313.34 277.19 L313.91 276.62 L314.47 277.50 L315.02 276.96 L315.55 276.38 L316.07 277.24 L316.57 276.77 L317.06 276.76 L317.53 277.13 L317.99 276.97 L318.42 277.43 L318.83 276.94 L319.22 276.56 L319.59 276.74 L319.93 276.43 L320.26 277.07 L320.58 276.75 L322.60 276.35 L323.66 275.77 L324.24 273.31 L324.58 273.68 L323.93 275.48 L324.06 275.63 L324.55 275.54 L325.10 274.99 L325.62 274.25 L326.71 273.99 L326.34 273.00 L326.95 273.00 L327.02 272.45 L327.47 272.22 L327.64 271.69 L327.98 271.30 L328.62 271.13 L328.95 270.67 L328.90 269.89 L329.42 269.56 L330.26 269.47 L330.43 268.84 L330.99 268.51 L331.30 267.99 L331.52 267.40 L331.62 266.89 L331.63 266.31 L332.45 266.27 L332.60 265.77 L332.48 265.10 L333.43 265.10 L333.16 264.32 L333.43 263.89 L333.91 263.58 L334.02 263.03 L334.35 262.62 L334.93 262.37 L334.76 261.65 L335.12 261.27 L335.72 261.02 L336.25 260.75 L335.66 259.79 L336.26 259.56 L336.51 259.13 L336.49 258.52 L337.15 258.32 L337.35 257.84 L337.97 257.60 L337.65 256.81 L338.55 256.75 L338.61 256.18 L338.69 255.63 L338.76 255.08 L339.57 254.98 L339.39 254.28 L340.19 254.18 L340.14 253.57 L340.58 253.28 L340.21 252.47 L340.98 252.40 L340.80 251.72 L341.44 251.61 L341.16 250.86 L341.73 250.61 L342.06 250.19 L342.66 249.98 L343.08 249.65 L343.20 249.08 L343.16 248.40 L343.44 247.97 L343.73 247.55 L344.34 247.41 L344.68 247.06 L345.01 246.72 L345.42 246.45 L346.09 246.45 L345.96 245.73 L346.69 245.83 L346.71 245.30 L346.92 244.70 L347.24 244.24 L347.48 243.68 L348.48 244.09 L348.58 243.39 L348.88 242.94 L349.44 242.87 L350.12 242.97 L350.03 242.04 L350.53 241.92 L350.91 241.64 L351.31 241.07 L352.04 241.04 L352.54 240.90 L352.32 240.09 L352.47 239.48 L353.11 239.08 L353.31 238.72 L353.80 238.61 L354.04 238.18 L354.75 238.23 L355.38 238.16 L355.31 237.29 L356.19 237.46 L356.52 237.01 L357.10 236.83 L357.26 236.15 L357.31 235.34 L358.19 235.54 L358.63 235.23 L358.90 234.70 L359.23 234.37 L359.70 234.25 L359.84 233.69 L360.07 233.25 L360.71 233.41 L360.81 232.79 L361.43 232.93 L361.72 232.56 L362.44 232.83 L362.90 232.67 L363.33 232.42 L363.31 231.41 L364.01 231.49 L364.75 231.60 L365.17 231.10 L365.32 230.01 L365.72 229.92 L366.35 230.17 L366.64 229.80 L366.82 229.20 L367.22 228.99 L367.96 229.33 L368.03 228.47 L368.99 229.19 L369.12 228.39 L369.72 228.44 L370.15 228.14 L370.56 227.81 L370.81 227.17 L371.71 227.74 L372.20 227.53 L372.59 227.12 L373.01 226.77 L373.59 226.74 L374.03 226.44 L374.45 226.11 L374.67 225.37 L375.40 225.67 L375.88 225.49 L376.00 224.55 L376.66 224.77 L376.99 224.32 L377.35 223.92 L377.82 223.81 L378.34 223.73 L378.80 223.51 L379.31 223.43 L379.80 223.29 L380.09 222.64 L380.71 222.87 L381.43 223.36 L381.60 222.40 L382.01 222.06 L382.68 222.44 L383.01 221.90 L383.76 222.57 L384.24 222.44 L384.38 221.31 L384.81 221.04 L385.57 221.80 L385.95 221.36 L386.28 220.77 L386.79 220.76 L387.24 220.54 L387.84 220.85 L388.32 220.79 L388.89 221.00 L389.25 220.46 L389.83 220.76 L390.04 219.68 L390.72 220.26 L391.19 220.07 L391.78 220.29 L392.15 219.60 L392.75 219.85 L393.10 218.98 L393.80 219.70 L394.30 219.44 L394.69 218.69 L395.31 219.02 L395.94 219.46 L396.35 218.77 L396.91 218.90 L397.50 219.21 L397.82 218.06 L398.31 217.91 L398.89 218.29 L399.38 218.21 L399.93 218.57 L400.28 217.85 L400.79 218.08 L401.26 218.19 L401.61 217.74 L402.16 218.47 L402.41 217.63 L403.11 217.21 L403.88 217.49 L404.60 217.72 L405.25 217.80 L405.79 217.42 L406.31 217.11 L406.85 217.34 L407.30 217.19 L407.72 217.09 L408.05 216.58 L408.51 217.38 L408.70 216.53 L408.22 212.90 L407.94 212.94 L407.60 212.83 L407.27 213.26 L406.85 213.35 L406.42 213.78 L405.86 213.62 L405.33 213.99 L404.63 213.40 L403.90 213.05 L403.22 213.31 L402.63 214.37 L401.86 214.56 L401.44 214.41 L400.95 214.01 L400.56 214.21 L400.14 214.42 L399.71 214.61 L399.19 214.36 L398.66 214.14 L398.15 214.11 L397.75 214.77 L397.24 214.90 L396.79 215.33 L396.26 215.43 L395.59 214.81 L395.01 214.68 L394.62 215.57 L394.13 215.92 L393.40 215.15 L393.02 216.03 L392.38 215.71 L391.92 216.19 L391.34 216.16 L390.72 215.92 L390.22 216.19 L389.62 216.02 L389.29 216.85 L388.79 216.95 L388.32 217.14 L387.68 216.72 L387.27 217.11 L386.73 217.04 L386.27 217.27 L385.89 217.78 L385.36 217.77 L384.78 217.61 L384.34 217.90 L383.85 218.04 L383.31 218.05 L382.81 218.17 L382.53 218.93 L382.08 219.20 L381.51 219.12 L380.94 219.07 L380.74 220.03 L380.17 219.98 L379.78 220.42 L378.93 219.65 L378.65 220.39 L378.33 221.00 L377.73 220.92 L376.97 220.48 L376.48 220.70 L376.08 221.05 L375.92 221.94 L375.39 222.03 L374.95 222.32 L374.21 221.99 L373.63 222.04 L373.40 222.80 L372.86 222.93 L372.48 223.40 L371.69 223.05 L371.27 223.43 L371.05 224.19 L370.44 224.20 L369.79 224.13 L369.22 224.21 L369.00 224.92 L368.60 225.30 L367.95 225.20 L367.71 225.83 L367.26 226.06 L366.94 226.52 L366.23 226.24 L365.94 226.69 L365.43 226.73 L365.01 226.90 L364.93 227.66 L364.53 227.80 L363.82 227.37 L363.41 228.03 L362.80 228.26 L362.55 229.03 L361.68 228.70 L361.13 228.86 L360.72 229.19 L360.69 230.09 L360.19 230.22 L359.59 230.18 L359.35 230.65 L359.16 231.19 L358.40 230.89 L358.14 231.32 L358.01 231.92 L357.65 232.22 L357.33 232.60 L356.80 232.86 L356.11 232.93 L356.04 233.79 L354.98 233.43 L354.88 234.23 L354.68 234.89 L354.29 235.31 L353.72 235.51 L353.18 235.71 L353.02 236.31 L352.61 236.59 L352.35 237.00 L351.98 237.23 L351.41 237.21 L350.92 237.83 L350.21 237.97 L350.40 238.82 L350.16 239.15 L349.42 239.03 L348.73 239.14 L349.11 240.16 L348.41 239.94 L347.83 239.90 L347.78 240.62 L347.56 241.18 L346.71 240.95 L346.66 241.80 L346.03 241.96 L345.83 242.65 L344.87 242.55 L344.34 242.95 L344.43 243.69 L344.20 244.10 L343.76 244.33 L343.51 244.75 L343.34 245.25 L342.70 245.36 L342.64 245.98 L341.86 246.00 L341.35 246.27 L341.20 246.83 L340.80 247.21 L340.90 247.97 L340.59 248.43 L340.40 248.97 L339.68 249.13 L339.49 249.69 L339.03 249.95 L338.77 250.37 L338.42 250.73 L338.52 251.39 L338.11 251.72 L337.69 252.06 L337.98 252.83 L336.94 252.80 L337.39 253.67 L336.70 253.86 L336.42 254.29 L336.17 254.74 L336.05 255.26 L335.79 255.71 L335.46 256.11 L334.94 256.39 L334.97 256.99 L334.26 257.15 L334.56 257.92 L333.75 258.01 L333.63 258.54 L333.85 259.28 L333.07 259.42 L333.40 260.22 L333.22 260.72 L332.86 261.11 L331.99 261.19 L332.01 261.80 L331.93 262.36 L331.81 262.88 L331.54 263.31 L331.30 263.75 L330.35 263.72 L330.18 264.19 L330.42 264.92 L329.74 265.02 L329.62 265.49 L329.22 265.75 L329.23 266.46 L328.82 266.87 L328.54 267.38 L327.89 267.60 L327.97 268.40 L326.87 268.23 L326.60 268.71 L326.57 269.39 L326.20 269.76 L325.78 270.06 L325.81 270.72 L324.92 270.52 L325.21 271.36 L324.73 271.44 L324.68 271.83 L323.72 271.91 L323.33 271.92 L323.17 271.97 L323.02 272.60 L322.39 273.03 L321.11 274.73 L321.47 275.89 L322.31 272.35 L322.33 272.62 L320.41 272.41 L320.17 272.53 L319.86 272.78 L319.52 272.14 L319.16 272.26 L318.78 272.18 L318.38 272.57 L317.95 272.95 L317.50 272.65 L317.04 272.26 L316.55 272.89 L316.05 272.10 L315.54 272.24 L315.01 272.55 L314.46 272.71 L313.90 272.89 L313.34 272.68 L312.76 272.85 L312.17 272.26 L311.58 272.00 L310.98 272.60 L310.37 272.59 L309.76 272.98 L309.14 272.41 L308.53 272.04 L307.91 272.87 L307.29 272.17 L306.67 272.80 L306.06 272.61 L305.45 272.09 L304.84 272.03 L304.23 272.78 L303.64 272.99 L303.05 273.04 L302.47 272.72 L301.90 272.72 L301.34 272.88 L300.80 272.48 L300.26 272.12 L299.74 272.05 L299.24 272.49 L298.75 272.90 L298.28 272.79 L297.83 271.94 L297.39 273.07 L296.98 272.98 L296.59 272.12 L296.22 272.56 L295.88 272.20 L295.56 272.10 L295.27 272.83 L295.00 272.16Z" fill="#000" stroke="none" stroke-width="0" />
<line x1="299.50" y1="275.00" x2="299.50" y2="284.50" stroke="#000" stroke-width="1.1"/>
<line x1="308.80" y1="275.00" x2="308.80" y2="284.50" stroke="#000" stroke-width="1.1"/>
<line x1="317.90" y1="275.00" x2="317.90" y2="286.60" stroke="#000" stroke-width="1.1"/>
<line x1="297.50" y1="255.70" x2="297.50" y2="263.60" stroke="#1a1a1a" stroke-width="0.95"/>
<path d="M294.60 262.60 L300.40 262.60 L297.50 268.40 Z" fill="#000" stroke="none" stroke-width="0" />
<line x1="306.20" y1="255.70" x2="306.20" y2="263.60" stroke="#1a1a1a" stroke-width="0.95"/>
<path d="M303.30 262.60 L309.10 262.60 L306.20 268.40 Z" fill="#000" stroke="none" stroke-width="0" />
<line x1="315.30" y1="255.70" x2="315.30" y2="263.60" stroke="#1a1a1a" stroke-width="0.95"/>
<path d="M312.40 262.60 L318.20 262.60 L315.30 268.40 Z" fill="#000" stroke="none" stroke-width="0" />
<text transform="translate(308.50 252.30) rotate(-90)" font-size="7.8" stroke="#000" stroke-width="0.12" >JAQ1</text>
</svg>
</body></html>
